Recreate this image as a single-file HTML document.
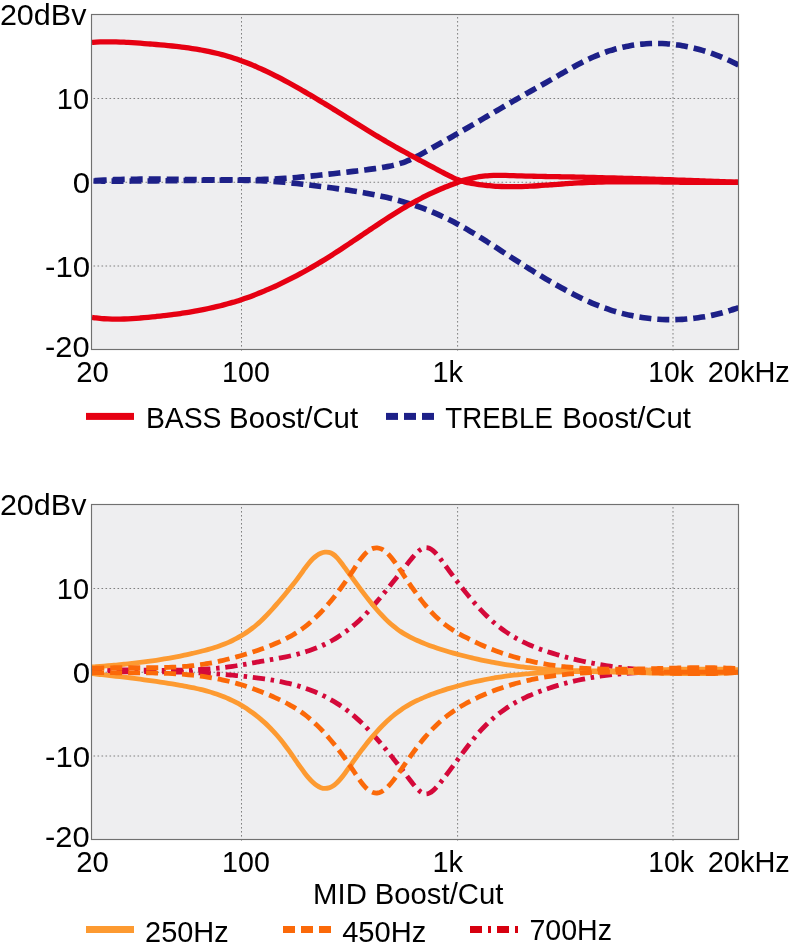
<!DOCTYPE html>
<html><head><meta charset="utf-8"><title>EQ curves</title>
<style>
html,body{margin:0;padding:0;background:#fff}
svg{display:block;font-family:"Liberation Sans",sans-serif;will-change:transform}
.g{stroke:#808080;stroke-width:1;stroke-dasharray:1.6 2.4;fill:none}
text{fill:#000}
</style></head>
<body>
<svg width="790" height="949" viewBox="0 0 790 949">
<defs><clipPath id="c1"><rect x="92.00" y="14.50" width="646.50" height="335.00"/></clipPath><clipPath id="c2"><rect x="92.00" y="504.50" width="646.50" height="335.00"/></clipPath></defs>
<rect x="91.50" y="14.50" width="647.00" height="335.00" fill="#eeeef0"/>
<line x1="241.50" y1="17.00" x2="241.50" y2="351.00" class="g"/>
<line x1="457.60" y1="17.00" x2="457.60" y2="351.00" class="g"/>
<line x1="673.00" y1="17.00" x2="673.00" y2="351.00" class="g"/>
<line x1="93.50" y1="98.50" x2="738.50" y2="98.50" class="g"/>
<line x1="93.50" y1="182.25" x2="738.50" y2="182.25" class="g"/>
<line x1="93.50" y1="266.00" x2="738.50" y2="266.00" class="g"/>
<g clip-path="url(#c1)">
<path d="M92.00,180.78 C92.67,180.73 94.68,180.60 96.02,180.52 C97.35,180.44 98.69,180.36 100.03,180.29 C101.37,180.21 102.71,180.14 104.05,180.08 C105.39,180.01 106.72,179.95 108.06,179.89 C109.40,179.84 110.74,179.78 112.08,179.73 C113.42,179.68 114.75,179.64 116.09,179.60 C117.43,179.55 118.77,179.51 120.11,179.48 C121.45,179.44 122.79,179.41 124.12,179.38 C125.46,179.35 126.80,179.32 128.14,179.30 C129.48,179.27 130.82,179.25 132.16,179.23 C133.49,179.21 134.83,179.20 136.17,179.19 C137.51,179.17 138.85,179.16 140.19,179.15 C141.52,179.14 142.86,179.14 144.20,179.13 C145.54,179.13 146.88,179.13 148.22,179.13 C149.56,179.13 150.89,179.13 152.23,179.13 C153.57,179.14 154.91,179.14 156.25,179.15 C157.59,179.15 158.93,179.16 160.26,179.17 C161.60,179.18 162.94,179.19 164.28,179.20 C165.62,179.22 166.96,179.23 168.30,179.24 C169.63,179.26 170.97,179.27 172.31,179.29 C173.65,179.31 174.99,179.32 176.33,179.34 C177.66,179.36 179.00,179.38 180.34,179.39 C181.68,179.41 183.02,179.43 184.36,179.45 C185.70,179.47 187.03,179.49 188.37,179.51 C189.71,179.53 191.05,179.55 192.39,179.57 C193.73,179.59 195.07,179.60 196.40,179.62 C197.74,179.64 199.08,179.66 200.42,179.68 C201.76,179.70 203.10,179.71 204.43,179.73 C205.77,179.75 207.11,179.76 208.45,179.78 C209.79,179.79 211.13,179.81 212.47,179.82 C213.80,179.83 215.14,179.84 216.48,179.85 C217.82,179.86 219.16,179.87 220.50,179.88 C221.84,179.89 223.17,179.90 224.51,179.90 C225.85,179.90 227.19,179.91 228.53,179.91 C229.87,179.91 231.20,179.91 232.54,179.91 C233.88,179.90 235.22,179.90 236.56,179.89 C237.90,179.88 239.24,179.88 240.57,179.86 C241.91,179.85 243.25,179.84 244.59,179.82 C245.93,179.80 247.27,179.78 248.61,179.76 C249.94,179.74 251.28,179.72 252.62,179.69 C253.96,179.66 255.30,179.63 256.64,179.59 C257.98,179.56 259.31,179.52 260.65,179.48 C261.99,179.44 263.33,179.40 264.67,179.35 C266.01,179.30 267.34,179.25 268.68,179.20 C270.02,179.14 271.36,179.08 272.70,179.02 C274.04,178.96 275.38,178.89 276.71,178.82 C278.05,178.75 279.39,178.68 280.73,178.60 C282.07,178.52 283.41,178.44 284.75,178.35 C286.08,178.26 287.42,178.17 288.76,178.07 C290.10,177.97 291.44,177.87 292.78,177.77 C294.11,177.66 295.45,177.55 296.79,177.43 C298.13,177.32 299.47,177.20 300.81,177.08 C302.15,176.96 303.48,176.83 304.82,176.70 C306.16,176.57 307.50,176.44 308.84,176.30 C310.18,176.17 311.52,176.03 312.85,175.89 C314.19,175.75 315.53,175.61 316.87,175.47 C318.21,175.32 319.55,175.18 320.89,175.03 C322.22,174.89 323.56,174.74 324.90,174.59 C326.24,174.44 327.58,174.29 328.92,174.14 C330.25,173.99 331.59,173.84 332.93,173.69 C334.27,173.54 335.61,173.39 336.95,173.24 C338.29,173.09 339.62,172.94 340.96,172.79 C342.30,172.64 343.64,172.48 344.98,172.33 C346.32,172.18 347.66,172.02 348.99,171.87 C350.33,171.71 351.67,171.55 353.01,171.40 C354.35,171.24 355.69,171.08 357.02,170.92 C358.36,170.75 359.70,170.59 361.04,170.42 C362.38,170.26 363.72,170.09 365.06,169.92 C366.39,169.75 367.73,169.58 369.07,169.40 C370.41,169.23 371.75,169.05 373.09,168.87 C374.43,168.69 375.76,168.51 377.10,168.31 C378.44,168.12 379.78,167.92 381.12,167.71 C382.46,167.49 383.80,167.27 385.13,167.03 C386.47,166.79 387.81,166.54 389.15,166.26 C390.49,165.99 391.83,165.70 393.16,165.38 C394.50,165.06 395.84,164.73 397.18,164.36 C398.52,163.99 399.86,163.60 401.20,163.18 C402.53,162.75 403.87,162.29 405.21,161.80 C406.55,161.30 407.89,160.77 409.23,160.20 C410.57,159.62 411.90,159.01 413.24,158.36 C414.58,157.71 415.92,157.02 417.26,156.31 C418.60,155.61 419.93,154.87 421.27,154.12 C422.61,153.37 423.95,152.60 425.29,151.83 C426.63,151.07 427.97,150.28 429.30,149.51 C430.64,148.75 431.98,147.98 433.32,147.22 C434.66,146.45 436.00,145.70 437.34,144.94 C438.67,144.19 440.01,143.44 441.35,142.69 C442.69,141.94 444.03,141.20 445.37,140.45 C446.70,139.70 448.04,138.95 449.38,138.19 C450.72,137.44 452.06,136.68 453.40,135.92 C454.74,135.16 456.07,134.40 457.41,133.64 C458.75,132.87 460.09,132.10 461.43,131.33 C462.77,130.56 464.11,129.79 465.44,129.01 C466.78,128.24 468.12,127.46 469.46,126.68 C470.80,125.90 472.14,125.12 473.48,124.34 C474.81,123.56 476.15,122.77 477.49,121.99 C478.83,121.21 480.17,120.42 481.51,119.63 C482.84,118.85 484.18,118.06 485.52,117.28 C486.86,116.49 488.20,115.70 489.54,114.92 C490.88,114.13 492.21,113.35 493.55,112.56 C494.89,111.78 496.23,110.99 497.57,110.21 C498.91,109.43 500.25,108.64 501.58,107.86 C502.92,107.08 504.26,106.30 505.60,105.52 C506.94,104.75 508.28,103.97 509.61,103.20 C510.95,102.42 512.29,101.65 513.63,100.88 C514.97,100.11 516.31,99.35 517.65,98.58 C518.98,97.82 520.32,97.06 521.66,96.30 C523.00,95.54 524.34,94.79 525.68,94.03 C527.02,93.27 528.35,92.52 529.69,91.77 C531.03,91.01 532.37,90.26 533.71,89.51 C535.05,88.76 536.39,88.01 537.72,87.25 C539.06,86.50 540.40,85.75 541.74,84.99 C543.08,84.23 544.42,83.48 545.75,82.72 C547.09,81.96 548.43,81.20 549.77,80.43 C551.11,79.67 552.45,78.90 553.79,78.13 C555.12,77.36 556.46,76.59 557.80,75.82 C559.14,75.05 560.48,74.27 561.82,73.50 C563.16,72.74 564.49,71.97 565.83,71.21 C567.17,70.44 568.51,69.69 569.85,68.94 C571.19,68.19 572.52,67.44 573.86,66.71 C575.20,65.98 576.54,65.25 577.88,64.54 C579.22,63.83 580.56,63.13 581.89,62.44 C583.23,61.76 584.57,61.08 585.91,60.43 C587.25,59.77 588.59,59.13 589.93,58.52 C591.26,57.90 592.60,57.29 593.94,56.71 C595.28,56.13 596.62,55.57 597.96,55.03 C599.30,54.49 600.63,53.97 601.97,53.46 C603.31,52.96 604.65,52.48 605.99,52.01 C607.33,51.55 608.66,51.10 610.00,50.68 C611.34,50.25 612.68,49.85 614.02,49.46 C615.36,49.07 616.70,48.71 618.03,48.36 C619.37,48.01 620.71,47.68 622.05,47.37 C623.39,47.05 624.73,46.76 626.07,46.49 C627.40,46.21 628.74,45.96 630.08,45.72 C631.42,45.49 632.76,45.27 634.10,45.07 C635.43,44.87 636.77,44.69 638.11,44.53 C639.45,44.36 640.79,44.22 642.13,44.09 C643.47,43.97 644.80,43.86 646.14,43.77 C647.48,43.68 648.82,43.61 650.16,43.56 C651.50,43.50 652.84,43.47 654.17,43.45 C655.51,43.43 656.85,43.44 658.19,43.45 C659.53,43.47 660.87,43.51 662.20,43.56 C663.54,43.62 664.88,43.69 666.22,43.78 C667.56,43.86 668.90,43.97 670.24,44.10 C671.57,44.22 672.91,44.36 674.25,44.52 C675.59,44.68 676.93,44.85 678.27,45.05 C679.61,45.24 680.94,45.45 682.28,45.68 C683.62,45.90 684.96,46.15 686.30,46.41 C687.64,46.67 688.98,46.95 690.31,47.25 C691.65,47.54 692.99,47.85 694.33,48.18 C695.67,48.51 697.01,48.86 698.34,49.22 C699.68,49.58 701.02,49.96 702.36,50.35 C703.70,50.75 705.04,51.16 706.38,51.59 C707.71,52.02 709.05,52.46 710.39,52.92 C711.73,53.38 713.07,53.86 714.41,54.35 C715.75,54.84 717.08,55.35 718.42,55.88 C719.76,56.40 721.10,56.94 722.44,57.50 C723.78,58.06 725.11,58.63 726.45,59.22 C727.79,59.81 729.13,60.41 730.47,61.03 C731.81,61.65 733.15,62.29 734.48,62.94 C735.82,63.59 737.83,64.61 738.50,64.94" fill="none" stroke="#1d2088" stroke-width="5.6" stroke-dasharray="12 6" stroke-dashoffset="15.27"/>
<path d="M92.00,180.98 C92.67,180.99 94.68,181.01 96.02,181.03 C97.35,181.04 98.69,181.05 100.03,181.06 C101.37,181.07 102.71,181.08 104.05,181.09 C105.39,181.10 106.72,181.11 108.06,181.11 C109.40,181.12 110.74,181.12 112.08,181.12 C113.42,181.13 114.75,181.13 116.09,181.13 C117.43,181.13 118.77,181.12 120.11,181.12 C121.45,181.12 122.79,181.12 124.12,181.11 C125.46,181.11 126.80,181.10 128.14,181.09 C129.48,181.09 130.82,181.08 132.16,181.07 C133.49,181.06 134.83,181.05 136.17,181.04 C137.51,181.03 138.85,181.02 140.19,181.01 C141.52,181.00 142.86,180.99 144.20,180.98 C145.54,180.96 146.88,180.95 148.22,180.94 C149.56,180.92 150.89,180.91 152.23,180.89 C153.57,180.88 154.91,180.86 156.25,180.85 C157.59,180.83 158.93,180.82 160.26,180.80 C161.60,180.78 162.94,180.77 164.28,180.75 C165.62,180.73 166.96,180.72 168.30,180.70 C169.63,180.68 170.97,180.67 172.31,180.65 C173.65,180.63 174.99,180.62 176.33,180.60 C177.66,180.58 179.00,180.57 180.34,180.55 C181.68,180.54 183.02,180.52 184.36,180.50 C185.70,180.49 187.03,180.47 188.37,180.46 C189.71,180.44 191.05,180.43 192.39,180.41 C193.73,180.40 195.07,180.39 196.40,180.37 C197.74,180.36 199.08,180.35 200.42,180.33 C201.76,180.32 203.10,180.31 204.43,180.30 C205.77,180.29 207.11,180.28 208.45,180.27 C209.79,180.26 211.13,180.25 212.47,180.25 C213.80,180.24 215.14,180.23 216.48,180.23 C217.82,180.22 219.16,180.22 220.50,180.21 C221.84,180.21 223.17,180.21 224.51,180.21 C225.85,180.21 227.19,180.20 228.53,180.21 C229.87,180.21 231.20,180.21 232.54,180.22 C233.88,180.22 235.22,180.23 236.56,180.24 C237.90,180.25 239.24,180.26 240.57,180.27 C241.91,180.29 243.25,180.30 244.59,180.33 C245.93,180.35 247.27,180.37 248.61,180.40 C249.94,180.42 251.28,180.45 252.62,180.49 C253.96,180.52 255.30,180.56 256.64,180.61 C257.98,180.65 259.31,180.70 260.65,180.75 C261.99,180.80 263.33,180.86 264.67,180.92 C266.01,180.98 267.34,181.05 268.68,181.13 C270.02,181.20 271.36,181.28 272.70,181.36 C274.04,181.45 275.38,181.54 276.71,181.64 C278.05,181.73 279.39,181.84 280.73,181.95 C282.07,182.06 283.41,182.18 284.75,182.30 C286.08,182.42 287.42,182.55 288.76,182.69 C290.10,182.82 291.44,182.96 292.78,183.10 C294.11,183.25 295.45,183.40 296.79,183.55 C298.13,183.70 299.47,183.86 300.81,184.01 C302.15,184.17 303.48,184.33 304.82,184.50 C306.16,184.66 307.50,184.83 308.84,184.99 C310.18,185.16 311.52,185.33 312.85,185.50 C314.19,185.67 315.53,185.84 316.87,186.01 C318.21,186.18 319.55,186.35 320.89,186.52 C322.22,186.69 323.56,186.86 324.90,187.04 C326.24,187.21 327.58,187.38 328.92,187.56 C330.25,187.73 331.59,187.91 332.93,188.09 C334.27,188.26 335.61,188.44 336.95,188.63 C338.29,188.81 339.62,188.99 340.96,189.18 C342.30,189.37 343.64,189.56 344.98,189.75 C346.32,189.95 347.66,190.15 348.99,190.35 C350.33,190.55 351.67,190.75 353.01,190.96 C354.35,191.17 355.69,191.39 357.02,191.60 C358.36,191.82 359.70,192.05 361.04,192.27 C362.38,192.50 363.72,192.74 365.06,192.98 C366.39,193.22 367.73,193.46 369.07,193.71 C370.41,193.96 371.75,194.22 373.09,194.49 C374.43,194.75 375.76,195.02 377.10,195.30 C378.44,195.58 379.78,195.86 381.12,196.15 C382.46,196.45 383.80,196.75 385.13,197.06 C386.47,197.37 387.81,197.68 389.15,198.01 C390.49,198.33 391.83,198.67 393.16,199.01 C394.50,199.35 395.84,199.70 397.18,200.06 C398.52,200.43 399.86,200.80 401.20,201.18 C402.53,201.56 403.87,201.95 405.21,202.35 C406.55,202.75 407.89,203.16 409.23,203.58 C410.57,204.01 411.90,204.44 413.24,204.89 C414.58,205.33 415.92,205.79 417.26,206.25 C418.60,206.72 419.93,207.20 421.27,207.69 C422.61,208.18 423.95,208.68 425.29,209.20 C426.63,209.71 427.97,210.24 429.30,210.78 C430.64,211.31 431.98,211.86 433.32,212.43 C434.66,212.99 436.00,213.57 437.34,214.15 C438.67,214.74 440.01,215.34 441.35,215.96 C442.69,216.57 444.03,217.20 445.37,217.84 C446.70,218.48 448.04,219.13 449.38,219.80 C450.72,220.46 452.06,221.14 453.40,221.84 C454.74,222.53 456.07,223.24 457.41,223.96 C458.75,224.68 460.09,225.42 461.43,226.16 C462.77,226.91 464.11,227.67 465.44,228.45 C466.78,229.22 468.12,230.00 469.46,230.80 C470.80,231.59 472.14,232.39 473.48,233.21 C474.81,234.02 476.15,234.84 477.49,235.67 C478.83,236.49 480.17,237.33 481.51,238.17 C482.84,239.01 484.18,239.86 485.52,240.71 C486.86,241.57 488.20,242.42 489.54,243.28 C490.88,244.14 492.21,245.01 493.55,245.87 C494.89,246.74 496.23,247.61 497.57,248.47 C498.91,249.34 500.25,250.21 501.58,251.08 C502.92,251.94 504.26,252.81 505.60,253.68 C506.94,254.54 508.28,255.41 509.61,256.27 C510.95,257.14 512.29,258.00 513.63,258.86 C514.97,259.72 516.31,260.58 517.65,261.43 C518.98,262.29 520.32,263.14 521.66,263.99 C523.00,264.84 524.34,265.68 525.68,266.52 C527.02,267.36 528.35,268.20 529.69,269.03 C531.03,269.87 532.37,270.69 533.71,271.52 C535.05,272.34 536.39,273.16 537.72,273.97 C539.06,274.79 540.40,275.60 541.74,276.40 C543.08,277.20 544.42,278.00 545.75,278.79 C547.09,279.58 548.43,280.37 549.77,281.15 C551.11,281.93 552.45,282.70 553.79,283.47 C555.12,284.23 556.46,284.99 557.80,285.75 C559.14,286.50 560.48,287.25 561.82,287.98 C563.16,288.72 564.49,289.45 565.83,290.18 C567.17,290.90 568.51,291.62 569.85,292.32 C571.19,293.03 572.52,293.73 573.86,294.42 C575.20,295.10 576.54,295.78 577.88,296.45 C579.22,297.11 580.56,297.77 581.89,298.41 C583.23,299.05 584.57,299.68 585.91,300.30 C587.25,300.92 588.59,301.52 589.93,302.11 C591.26,302.70 592.60,303.28 593.94,303.84 C595.28,304.40 596.62,304.94 597.96,305.47 C599.30,306.00 600.63,306.51 601.97,307.01 C603.31,307.51 604.65,307.99 605.99,308.46 C607.33,308.93 608.66,309.39 610.00,309.82 C611.34,310.26 612.68,310.69 614.02,311.10 C615.36,311.50 616.70,311.90 618.03,312.28 C619.37,312.65 620.71,313.02 622.05,313.37 C623.39,313.72 624.73,314.05 626.07,314.37 C627.40,314.69 628.74,315.00 630.08,315.29 C631.42,315.58 632.76,315.85 634.10,316.11 C635.43,316.37 636.77,316.62 638.11,316.85 C639.45,317.08 640.79,317.30 642.13,317.50 C643.47,317.71 644.80,317.89 646.14,318.07 C647.48,318.24 648.82,318.40 650.16,318.55 C651.50,318.69 652.84,318.82 654.17,318.94 C655.51,319.06 656.85,319.16 658.19,319.25 C659.53,319.34 660.87,319.41 662.20,319.47 C663.54,319.53 664.88,319.58 666.22,319.61 C667.56,319.65 668.90,319.66 670.24,319.67 C671.57,319.67 672.91,319.66 674.25,319.64 C675.59,319.62 676.93,319.58 678.27,319.53 C679.61,319.48 680.94,319.41 682.28,319.33 C683.62,319.26 684.96,319.16 686.30,319.06 C687.64,318.95 688.98,318.83 690.31,318.70 C691.65,318.56 692.99,318.42 694.33,318.25 C695.67,318.09 697.01,317.91 698.34,317.72 C699.68,317.53 701.02,317.33 702.36,317.11 C703.70,316.89 705.04,316.65 706.38,316.41 C707.71,316.16 709.05,315.89 710.39,315.62 C711.73,315.34 713.07,315.05 714.41,314.74 C715.75,314.43 717.08,314.11 718.42,313.77 C719.76,313.43 721.10,313.08 722.44,312.71 C723.78,312.35 725.11,311.96 726.45,311.57 C727.79,311.17 729.13,310.76 730.47,310.33 C731.81,309.90 733.15,309.46 734.48,309.00 C735.82,308.54 737.83,307.81 738.50,307.57" fill="none" stroke="#1d2088" stroke-width="5.6" stroke-dasharray="12 6" stroke-dashoffset="16.48"/>
<path d="M92.00,42.35 C92.67,42.31 94.68,42.17 96.02,42.10 C97.35,42.03 98.69,41.98 100.03,41.93 C101.37,41.89 102.71,41.86 104.05,41.83 C105.39,41.81 106.72,41.80 108.06,41.80 C109.40,41.80 110.74,41.81 112.08,41.83 C113.42,41.84 114.75,41.87 116.09,41.91 C117.43,41.94 118.77,41.99 120.11,42.04 C121.45,42.09 122.79,42.15 124.12,42.21 C125.46,42.28 126.80,42.35 128.14,42.42 C129.48,42.50 130.82,42.58 132.16,42.67 C133.49,42.75 134.83,42.84 136.17,42.94 C137.51,43.03 138.85,43.13 140.19,43.23 C141.52,43.33 142.86,43.43 144.20,43.54 C145.54,43.64 146.88,43.75 148.22,43.86 C149.56,43.96 150.89,44.07 152.23,44.18 C153.57,44.29 154.91,44.40 156.25,44.51 C157.59,44.63 158.93,44.74 160.26,44.86 C161.60,44.98 162.94,45.10 164.28,45.22 C165.62,45.34 166.96,45.47 168.30,45.60 C169.63,45.74 170.97,45.87 172.31,46.01 C173.65,46.15 174.99,46.30 176.33,46.45 C177.66,46.60 179.00,46.75 180.34,46.91 C181.68,47.08 183.02,47.24 184.36,47.42 C185.70,47.59 187.03,47.77 188.37,47.96 C189.71,48.15 191.05,48.35 192.39,48.55 C193.73,48.75 195.07,48.97 196.40,49.19 C197.74,49.41 199.08,49.64 200.42,49.87 C201.76,50.11 203.10,50.36 204.43,50.62 C205.77,50.88 207.11,51.14 208.45,51.42 C209.79,51.70 211.13,51.99 212.47,52.29 C213.80,52.59 215.14,52.90 216.48,53.22 C217.82,53.55 219.16,53.88 220.50,54.23 C221.84,54.58 223.17,54.94 224.51,55.31 C225.85,55.69 227.19,56.07 228.53,56.47 C229.87,56.87 231.20,57.29 232.54,57.72 C233.88,58.15 235.22,58.59 236.56,59.05 C237.90,59.50 239.24,59.97 240.57,60.46 C241.91,60.94 243.25,61.44 244.59,61.95 C245.93,62.46 247.27,62.98 248.61,63.52 C249.94,64.05 251.28,64.60 252.62,65.16 C253.96,65.72 255.30,66.29 256.64,66.88 C257.98,67.46 259.31,68.05 260.65,68.66 C261.99,69.26 263.33,69.88 264.67,70.50 C266.01,71.13 267.34,71.76 268.68,72.41 C270.02,73.05 271.36,73.71 272.70,74.37 C274.04,75.04 275.38,75.71 276.71,76.40 C278.05,77.08 279.39,77.77 280.73,78.47 C282.07,79.17 283.41,79.88 284.75,80.59 C286.08,81.31 287.42,82.03 288.76,82.76 C290.10,83.49 291.44,84.23 292.78,84.98 C294.11,85.72 295.45,86.47 296.79,87.23 C298.13,87.99 299.47,88.75 300.81,89.52 C302.15,90.29 303.48,91.07 304.82,91.85 C306.16,92.63 307.50,93.41 308.84,94.20 C310.18,94.99 311.52,95.79 312.85,96.59 C314.19,97.39 315.53,98.19 316.87,99.00 C318.21,99.80 319.55,100.62 320.89,101.43 C322.22,102.24 323.56,103.06 324.90,103.88 C326.24,104.70 327.58,105.52 328.92,106.35 C330.25,107.17 331.59,108.00 332.93,108.83 C334.27,109.66 335.61,110.49 336.95,111.32 C338.29,112.15 339.62,112.98 340.96,113.82 C342.30,114.65 343.64,115.48 344.98,116.32 C346.32,117.15 347.66,117.99 348.99,118.82 C350.33,119.65 351.67,120.49 353.01,121.32 C354.35,122.15 355.69,122.99 357.02,123.82 C358.36,124.65 359.70,125.48 361.04,126.30 C362.38,127.13 363.72,127.96 365.06,128.78 C366.39,129.60 367.73,130.42 369.07,131.24 C370.41,132.06 371.75,132.88 373.09,133.69 C374.43,134.50 375.76,135.31 377.10,136.11 C378.44,136.92 379.78,137.72 381.12,138.51 C382.46,139.31 383.80,140.10 385.13,140.89 C386.47,141.67 387.81,142.46 389.15,143.23 C390.49,144.01 391.83,144.78 393.16,145.55 C394.50,146.31 395.84,147.07 397.18,147.83 C398.52,148.58 399.86,149.33 401.20,150.08 C402.53,150.82 403.87,151.56 405.21,152.30 C406.55,153.04 407.89,153.77 409.23,154.51 C410.57,155.24 411.90,155.96 413.24,156.69 C414.58,157.41 415.92,158.14 417.26,158.86 C418.60,159.58 419.93,160.30 421.27,161.01 C422.61,161.73 423.95,162.45 425.29,163.16 C426.63,163.88 427.97,164.59 429.30,165.31 C430.64,166.02 431.98,166.73 433.32,167.45 C434.66,168.16 436.00,168.88 437.34,169.59 C438.67,170.31 440.01,171.03 441.35,171.75 C442.69,172.46 444.03,173.18 445.37,173.88 C446.70,174.58 448.04,175.27 449.38,175.93 C450.72,176.59 452.06,177.24 453.40,177.84 C454.74,178.44 456.07,179.01 457.41,179.53 C458.75,180.04 460.09,180.51 461.43,180.94 C462.77,181.36 464.11,181.73 465.44,182.07 C466.78,182.41 468.12,182.71 469.46,182.98 C470.80,183.25 472.14,183.49 473.48,183.71 C474.81,183.94 476.15,184.13 477.49,184.32 C478.83,184.52 480.17,184.69 481.51,184.86 C482.84,185.02 484.18,185.18 485.52,185.32 C486.86,185.47 488.20,185.60 489.54,185.72 C490.88,185.85 492.21,185.96 493.55,186.06 C494.89,186.16 496.23,186.25 497.57,186.32 C498.91,186.40 500.25,186.47 501.58,186.52 C502.92,186.57 504.26,186.62 505.60,186.65 C506.94,186.68 508.28,186.70 509.61,186.71 C510.95,186.72 512.29,186.72 513.63,186.71 C514.97,186.70 516.31,186.68 517.65,186.66 C518.98,186.63 520.32,186.59 521.66,186.55 C523.00,186.51 524.34,186.46 525.68,186.40 C527.02,186.35 528.35,186.28 529.69,186.22 C531.03,186.15 532.37,186.07 533.71,186.00 C535.05,185.92 536.39,185.83 537.72,185.75 C539.06,185.66 540.40,185.57 541.74,185.48 C543.08,185.38 544.42,185.29 545.75,185.19 C547.09,185.09 548.43,184.99 549.77,184.89 C551.11,184.79 552.45,184.69 553.79,184.59 C555.12,184.49 556.46,184.39 557.80,184.29 C559.14,184.18 560.48,184.08 561.82,183.99 C563.16,183.89 564.49,183.79 565.83,183.70 C567.17,183.61 568.51,183.51 569.85,183.43 C571.19,183.34 572.52,183.26 573.86,183.18 C575.20,183.10 576.54,183.02 577.88,182.95 C579.22,182.88 580.56,182.81 581.89,182.75 C583.23,182.68 584.57,182.62 585.91,182.57 C587.25,182.51 588.59,182.46 589.93,182.41 C591.26,182.36 592.60,182.31 593.94,182.27 C595.28,182.22 596.62,182.18 597.96,182.15 C599.30,182.11 600.63,182.08 601.97,182.04 C603.31,182.01 604.65,181.98 605.99,181.96 C607.33,181.93 608.66,181.91 610.00,181.89 C611.34,181.87 612.68,181.85 614.02,181.83 C615.36,181.82 616.70,181.80 618.03,181.79 C619.37,181.78 620.71,181.77 622.05,181.77 C623.39,181.76 624.73,181.75 626.07,181.75 C627.40,181.75 628.74,181.75 630.08,181.75 C631.42,181.75 632.76,181.75 634.10,181.75 C635.43,181.76 636.77,181.76 638.11,181.77 C639.45,181.77 640.79,181.78 642.13,181.79 C643.47,181.80 644.80,181.81 646.14,181.82 C647.48,181.83 648.82,181.84 650.16,181.86 C651.50,181.87 652.84,181.88 654.17,181.90 C655.51,181.91 656.85,181.93 658.19,181.94 C659.53,181.96 660.87,181.98 662.20,181.99 C663.54,182.01 664.88,182.03 666.22,182.05 C667.56,182.06 668.90,182.08 670.24,182.10 C671.57,182.12 672.91,182.13 674.25,182.15 C675.59,182.17 676.93,182.19 678.27,182.20 C679.61,182.22 680.94,182.24 682.28,182.25 C683.62,182.27 684.96,182.28 686.30,182.30 C687.64,182.32 688.98,182.33 690.31,182.34 C691.65,182.36 692.99,182.37 694.33,182.38 C695.67,182.39 697.01,182.41 698.34,182.42 C699.68,182.43 701.02,182.44 702.36,182.44 C703.70,182.45 705.04,182.46 706.38,182.46 C707.71,182.47 709.05,182.47 710.39,182.47 C711.73,182.47 713.07,182.47 714.41,182.47 C715.75,182.47 717.08,182.47 718.42,182.46 C719.76,182.46 721.10,182.45 722.44,182.44 C723.78,182.43 725.11,182.42 726.45,182.41 C727.79,182.39 729.13,182.38 730.47,182.36 C731.81,182.34 733.15,182.32 734.48,182.30 C735.82,182.27 737.83,182.23 738.50,182.22" fill="none" stroke="#e60012" stroke-width="5.3"/>
<path d="M92.00,317.42 C92.67,317.51 94.68,317.81 96.02,317.98 C97.35,318.14 98.69,318.29 100.03,318.42 C101.37,318.55 102.71,318.65 104.05,318.75 C105.39,318.84 106.72,318.91 108.06,318.97 C109.40,319.03 110.74,319.07 112.08,319.10 C113.42,319.13 114.75,319.15 116.09,319.15 C117.43,319.15 118.77,319.13 120.11,319.11 C121.45,319.09 122.79,319.05 124.12,319.00 C125.46,318.95 126.80,318.90 128.14,318.83 C129.48,318.76 130.82,318.69 132.16,318.60 C133.49,318.52 134.83,318.42 136.17,318.33 C137.51,318.23 138.85,318.12 140.19,318.01 C141.52,317.90 142.86,317.78 144.20,317.66 C145.54,317.54 146.88,317.42 148.22,317.29 C149.56,317.16 150.89,317.03 152.23,316.90 C153.57,316.77 154.91,316.63 156.25,316.49 C157.59,316.35 158.93,316.21 160.26,316.06 C161.60,315.91 162.94,315.76 164.28,315.61 C165.62,315.45 166.96,315.29 168.30,315.13 C169.63,314.97 170.97,314.80 172.31,314.63 C173.65,314.45 174.99,314.28 176.33,314.09 C177.66,313.91 179.00,313.72 180.34,313.53 C181.68,313.33 183.02,313.13 184.36,312.93 C185.70,312.72 187.03,312.51 188.37,312.30 C189.71,312.08 191.05,311.85 192.39,311.62 C193.73,311.39 195.07,311.16 196.40,310.91 C197.74,310.67 199.08,310.42 200.42,310.16 C201.76,309.90 203.10,309.64 204.43,309.37 C205.77,309.09 207.11,308.81 208.45,308.53 C209.79,308.24 211.13,307.94 212.47,307.64 C213.80,307.33 215.14,307.02 216.48,306.70 C217.82,306.38 219.16,306.05 220.50,305.71 C221.84,305.37 223.17,305.02 224.51,304.66 C225.85,304.30 227.19,303.94 228.53,303.56 C229.87,303.18 231.20,302.80 232.54,302.40 C233.88,302.01 235.22,301.60 236.56,301.18 C237.90,300.77 239.24,300.34 240.57,299.90 C241.91,299.46 243.25,299.02 244.59,298.56 C245.93,298.10 247.27,297.63 248.61,297.15 C249.94,296.67 251.28,296.18 252.62,295.67 C253.96,295.17 255.30,294.66 256.64,294.14 C257.98,293.62 259.31,293.09 260.65,292.54 C261.99,292.00 263.33,291.45 264.67,290.89 C266.01,290.33 267.34,289.75 268.68,289.17 C270.02,288.59 271.36,288.00 272.70,287.40 C274.04,286.80 275.38,286.19 276.71,285.56 C278.05,284.94 279.39,284.32 280.73,283.68 C282.07,283.04 283.41,282.39 284.75,281.73 C286.08,281.07 287.42,280.41 288.76,279.73 C290.10,279.06 291.44,278.37 292.78,277.68 C294.11,276.98 295.45,276.28 296.79,275.57 C298.13,274.86 299.47,274.14 300.81,273.41 C302.15,272.68 303.48,271.95 304.82,271.20 C306.16,270.46 307.50,269.70 308.84,268.94 C310.18,268.18 311.52,267.41 312.85,266.63 C314.19,265.85 315.53,265.07 316.87,264.27 C318.21,263.48 319.55,262.68 320.89,261.87 C322.22,261.06 323.56,260.24 324.90,259.41 C326.24,258.59 327.58,257.75 328.92,256.91 C330.25,256.07 331.59,255.22 332.93,254.37 C334.27,253.51 335.61,252.65 336.95,251.78 C338.29,250.92 339.62,250.04 340.96,249.16 C342.30,248.28 343.64,247.40 344.98,246.51 C346.32,245.62 347.66,244.73 348.99,243.84 C350.33,242.94 351.67,242.04 353.01,241.14 C354.35,240.24 355.69,239.34 357.02,238.44 C358.36,237.53 359.70,236.63 361.04,235.73 C362.38,234.82 363.72,233.92 365.06,233.01 C366.39,232.11 367.73,231.21 369.07,230.31 C370.41,229.41 371.75,228.51 373.09,227.61 C374.43,226.71 375.76,225.82 377.10,224.93 C378.44,224.04 379.78,223.16 381.12,222.28 C382.46,221.40 383.80,220.52 385.13,219.65 C386.47,218.78 387.81,217.91 389.15,217.06 C390.49,216.20 391.83,215.35 393.16,214.51 C394.50,213.66 395.84,212.83 397.18,212.00 C398.52,211.17 399.86,210.36 401.20,209.55 C402.53,208.74 403.87,207.94 405.21,207.15 C406.55,206.37 407.89,205.59 409.23,204.82 C410.57,204.06 411.90,203.30 413.24,202.56 C414.58,201.82 415.92,201.09 417.26,200.37 C418.60,199.66 419.93,198.95 421.27,198.26 C422.61,197.56 423.95,196.88 425.29,196.21 C426.63,195.54 427.97,194.88 429.30,194.23 C430.64,193.59 431.98,192.95 433.32,192.33 C434.66,191.71 436.00,191.10 437.34,190.50 C438.67,189.91 440.01,189.32 441.35,188.75 C442.69,188.17 444.03,187.61 445.37,187.06 C446.70,186.51 448.04,185.98 449.38,185.45 C450.72,184.93 452.06,184.41 453.40,183.91 C454.74,183.41 456.07,182.92 457.41,182.45 C458.75,181.98 460.09,181.53 461.43,181.09 C462.77,180.66 464.11,180.25 465.44,179.86 C466.78,179.47 468.12,179.10 469.46,178.76 C470.80,178.42 472.14,178.10 473.48,177.81 C474.81,177.51 476.15,177.25 477.49,177.01 C478.83,176.77 480.17,176.57 481.51,176.38 C482.84,176.20 484.18,176.05 485.52,175.91 C486.86,175.78 488.20,175.68 489.54,175.59 C490.88,175.51 492.21,175.45 493.55,175.40 C494.89,175.36 496.23,175.34 497.57,175.32 C498.91,175.31 500.25,175.32 501.58,175.34 C502.92,175.35 504.26,175.38 505.60,175.41 C506.94,175.45 508.28,175.49 509.61,175.53 C510.95,175.58 512.29,175.63 513.63,175.68 C514.97,175.72 516.31,175.77 517.65,175.82 C518.98,175.86 520.32,175.90 521.66,175.94 C523.00,175.98 524.34,176.02 525.68,176.06 C527.02,176.09 528.35,176.13 529.69,176.16 C531.03,176.19 532.37,176.22 533.71,176.25 C535.05,176.28 536.39,176.31 537.72,176.34 C539.06,176.37 540.40,176.39 541.74,176.42 C543.08,176.45 544.42,176.47 545.75,176.49 C547.09,176.52 548.43,176.54 549.77,176.57 C551.11,176.59 552.45,176.61 553.79,176.64 C555.12,176.66 556.46,176.68 557.80,176.71 C559.14,176.73 560.48,176.76 561.82,176.78 C563.16,176.81 564.49,176.83 565.83,176.86 C567.17,176.88 568.51,176.91 569.85,176.94 C571.19,176.96 572.52,176.99 573.86,177.02 C575.20,177.05 576.54,177.08 577.88,177.11 C579.22,177.13 580.56,177.16 581.89,177.19 C583.23,177.22 584.57,177.25 585.91,177.28 C587.25,177.32 588.59,177.35 589.93,177.38 C591.26,177.41 592.60,177.44 593.94,177.47 C595.28,177.51 596.62,177.54 597.96,177.57 C599.30,177.61 600.63,177.64 601.97,177.68 C603.31,177.71 604.65,177.74 605.99,177.78 C607.33,177.81 608.66,177.85 610.00,177.89 C611.34,177.92 612.68,177.96 614.02,178.00 C615.36,178.03 616.70,178.07 618.03,178.11 C619.37,178.14 620.71,178.18 622.05,178.22 C623.39,178.26 624.73,178.30 626.07,178.34 C627.40,178.38 628.74,178.41 630.08,178.45 C631.42,178.49 632.76,178.53 634.10,178.57 C635.43,178.62 636.77,178.66 638.11,178.70 C639.45,178.74 640.79,178.78 642.13,178.82 C643.47,178.86 644.80,178.91 646.14,178.95 C647.48,178.99 648.82,179.03 650.16,179.08 C651.50,179.12 652.84,179.16 654.17,179.21 C655.51,179.25 656.85,179.30 658.19,179.34 C659.53,179.38 660.87,179.43 662.20,179.47 C663.54,179.52 664.88,179.56 666.22,179.61 C667.56,179.65 668.90,179.70 670.24,179.75 C671.57,179.79 672.91,179.84 674.25,179.89 C675.59,179.93 676.93,179.98 678.27,180.03 C679.61,180.07 680.94,180.12 682.28,180.17 C683.62,180.22 684.96,180.26 686.30,180.31 C687.64,180.36 688.98,180.41 690.31,180.46 C691.65,180.51 692.99,180.56 694.33,180.60 C695.67,180.65 697.01,180.70 698.34,180.75 C699.68,180.80 701.02,180.85 702.36,180.90 C703.70,180.95 705.04,181.00 706.38,181.05 C707.71,181.10 709.05,181.15 710.39,181.20 C711.73,181.25 713.07,181.30 714.41,181.36 C715.75,181.41 717.08,181.46 718.42,181.51 C719.76,181.56 721.10,181.61 722.44,181.66 C723.78,181.72 725.11,181.77 726.45,181.82 C727.79,181.87 729.13,181.92 730.47,181.98 C731.81,182.03 733.15,182.08 734.48,182.13 C735.82,182.19 737.83,182.27 738.50,182.29" fill="none" stroke="#e60012" stroke-width="5.3"/>
</g>
<rect x="91.50" y="14.50" width="647.00" height="335.00" fill="none" stroke="#707070" stroke-width="1.15"/>
<rect x="91.50" y="504.50" width="647.00" height="335.00" fill="#eeeef0"/>
<line x1="241.50" y1="507.00" x2="241.50" y2="841.00" class="g"/>
<line x1="457.60" y1="507.00" x2="457.60" y2="841.00" class="g"/>
<line x1="673.00" y1="507.00" x2="673.00" y2="841.00" class="g"/>
<line x1="93.50" y1="588.50" x2="738.50" y2="588.50" class="g"/>
<line x1="93.50" y1="672.25" x2="738.50" y2="672.25" class="g"/>
<line x1="93.50" y1="756.00" x2="738.50" y2="756.00" class="g"/>
<g clip-path="url(#c2)">
<path d="M92.00,670.30 C92.67,670.28 94.68,670.21 96.02,670.18 C97.35,670.14 98.69,670.11 100.03,670.08 C101.37,670.05 102.71,670.03 104.05,670.01 C105.39,669.99 106.72,669.98 108.06,669.97 C109.40,669.95 110.74,669.95 112.08,669.94 C113.42,669.93 114.75,669.93 116.09,669.93 C117.43,669.93 118.77,669.93 120.11,669.94 C121.45,669.94 122.79,669.95 124.12,669.96 C125.46,669.97 126.80,669.98 128.14,669.99 C129.48,670.00 130.82,670.01 132.16,670.02 C133.49,670.04 134.83,670.05 136.17,670.07 C137.51,670.08 138.85,670.10 140.19,670.11 C141.52,670.13 142.86,670.14 144.20,670.16 C145.54,670.18 146.88,670.19 148.22,670.20 C149.56,670.22 150.89,670.23 152.23,670.24 C153.57,670.26 154.91,670.27 156.25,670.28 C157.59,670.29 158.93,670.30 160.26,670.30 C161.60,670.31 162.94,670.31 164.28,670.31 C165.62,670.32 166.96,670.32 168.30,670.31 C169.63,670.31 170.97,670.30 172.31,670.29 C173.65,670.29 174.99,670.27 176.33,670.26 C177.66,670.24 179.00,670.22 180.34,670.20 C181.68,670.18 183.02,670.15 184.36,670.12 C185.70,670.08 187.03,670.05 188.37,670.01 C189.71,669.97 191.05,669.92 192.39,669.87 C193.73,669.82 195.07,669.76 196.40,669.70 C197.74,669.64 199.08,669.57 200.42,669.50 C201.76,669.42 203.10,669.34 204.43,669.26 C205.77,669.17 207.11,669.08 208.45,668.98 C209.79,668.88 211.13,668.78 212.47,668.66 C213.80,668.55 215.14,668.43 216.48,668.30 C217.82,668.17 219.16,668.04 220.50,667.89 C221.84,667.75 223.17,667.60 224.51,667.44 C225.85,667.28 227.19,667.11 228.53,666.93 C229.87,666.75 231.20,666.57 232.54,666.37 C233.88,666.17 235.22,665.97 236.56,665.75 C237.90,665.54 239.24,665.32 240.57,665.09 C241.91,664.87 243.25,664.63 244.59,664.39 C245.93,664.16 247.27,663.92 248.61,663.67 C249.94,663.43 251.28,663.18 252.62,662.94 C253.96,662.69 255.30,662.45 256.64,662.20 C257.98,661.96 259.31,661.72 260.65,661.48 C261.99,661.24 263.33,661.01 264.67,660.77 C266.01,660.54 267.34,660.30 268.68,660.07 C270.02,659.83 271.36,659.60 272.70,659.36 C274.04,659.12 275.38,658.88 276.71,658.63 C278.05,658.38 279.39,658.13 280.73,657.88 C282.07,657.62 283.41,657.35 284.75,657.08 C286.08,656.80 287.42,656.52 288.76,656.23 C290.10,655.93 291.44,655.63 292.78,655.31 C294.11,654.99 295.45,654.66 296.79,654.32 C298.13,653.97 299.47,653.61 300.81,653.24 C302.15,652.86 303.48,652.47 304.82,652.06 C306.16,651.65 307.50,651.22 308.84,650.77 C310.18,650.32 311.52,649.85 312.85,649.35 C314.19,648.86 315.53,648.34 316.87,647.80 C318.21,647.26 319.55,646.70 320.89,646.10 C322.22,645.51 323.56,644.90 324.90,644.25 C326.24,643.60 327.58,642.93 328.92,642.22 C330.25,641.52 331.59,640.79 332.93,640.02 C334.27,639.25 335.61,638.45 336.95,637.62 C338.29,636.78 339.62,635.92 340.96,635.01 C342.30,634.11 343.64,633.17 344.98,632.20 C346.32,631.23 347.66,630.22 348.99,629.17 C350.33,628.13 351.67,627.05 353.01,625.92 C354.35,624.80 355.69,623.64 357.02,622.44 C358.36,621.23 359.70,619.98 361.04,618.69 C362.38,617.40 363.72,616.07 365.06,614.69 C366.39,613.32 367.73,611.91 369.07,610.46 C370.41,609.02 371.75,607.54 373.09,606.03 C374.43,604.52 375.76,602.98 377.10,601.42 C378.44,599.86 379.78,598.27 381.12,596.66 C382.46,595.05 383.80,593.42 385.13,591.78 C386.47,590.14 387.81,588.48 389.15,586.81 C390.49,585.14 391.83,583.46 393.16,581.77 C394.50,580.09 395.84,578.39 397.18,576.70 C398.52,575.01 399.86,573.31 401.20,571.62 C402.53,569.93 403.87,568.24 405.21,566.56 C406.55,564.88 407.89,563.20 409.23,561.55 C410.57,559.90 411.90,558.20 413.24,556.66 C414.58,555.12 415.92,553.57 417.26,552.31 C418.60,551.05 419.93,549.88 421.27,549.09 C422.61,548.31 423.95,547.73 425.29,547.59 C426.63,547.46 427.97,547.71 429.30,548.26 C430.64,548.81 431.98,549.77 433.32,550.91 C434.66,552.05 436.00,553.54 437.34,555.08 C438.67,556.62 440.01,558.40 441.35,560.15 C442.69,561.90 444.03,563.74 445.37,565.57 C446.70,567.39 448.04,569.25 449.38,571.08 C450.72,572.91 452.06,574.73 453.40,576.53 C454.74,578.32 456.07,580.10 457.41,581.86 C458.75,583.62 460.09,585.35 461.43,587.07 C462.77,588.78 464.11,590.47 465.44,592.13 C466.78,593.79 468.12,595.43 469.46,597.03 C470.80,598.64 472.14,600.21 473.48,601.76 C474.81,603.30 476.15,604.82 477.49,606.30 C478.83,607.77 480.17,609.22 481.51,610.63 C482.84,612.04 484.18,613.41 485.52,614.74 C486.86,616.07 488.20,617.37 489.54,618.61 C490.88,619.86 492.21,621.07 493.55,622.24 C494.89,623.40 496.23,624.52 497.57,625.61 C498.91,626.69 500.25,627.73 501.58,628.73 C502.92,629.73 504.26,630.70 505.60,631.63 C506.94,632.56 508.28,633.45 509.61,634.31 C510.95,635.17 512.29,635.99 513.63,636.79 C514.97,637.58 516.31,638.35 517.65,639.08 C518.98,639.82 520.32,640.52 521.66,641.20 C523.00,641.88 524.34,642.54 525.68,643.17 C527.02,643.80 528.35,644.40 529.69,644.98 C531.03,645.57 532.37,646.13 533.71,646.67 C535.05,647.22 536.39,647.74 537.72,648.24 C539.06,648.75 540.40,649.24 541.74,649.71 C543.08,650.19 544.42,650.65 545.75,651.10 C547.09,651.54 548.43,651.98 549.77,652.40 C551.11,652.83 552.45,653.24 553.79,653.65 C555.12,654.06 556.46,654.46 557.80,654.85 C559.14,655.24 560.48,655.62 561.82,655.99 C563.16,656.37 564.49,656.73 565.83,657.09 C567.17,657.44 568.51,657.79 569.85,658.13 C571.19,658.48 572.52,658.81 573.86,659.13 C575.20,659.46 576.54,659.78 577.88,660.09 C579.22,660.40 580.56,660.70 581.89,660.99 C583.23,661.29 584.57,661.58 585.91,661.86 C587.25,662.14 588.59,662.41 589.93,662.68 C591.26,662.94 592.60,663.20 593.94,663.45 C595.28,663.71 596.62,663.95 597.96,664.19 C599.30,664.43 600.63,664.66 601.97,664.89 C603.31,665.11 604.65,665.33 605.99,665.54 C607.33,665.76 608.66,665.96 610.00,666.16 C611.34,666.36 612.68,666.56 614.02,666.74 C615.36,666.93 616.70,667.11 618.03,667.29 C619.37,667.47 620.71,667.64 622.05,667.80 C623.39,667.97 624.73,668.12 626.07,668.28 C627.40,668.43 628.74,668.58 630.08,668.72 C631.42,668.87 632.76,669.00 634.10,669.14 C635.43,669.27 636.77,669.39 638.11,669.52 C639.45,669.64 640.79,669.76 642.13,669.87 C643.47,669.98 644.80,670.09 646.14,670.19 C647.48,670.30 648.82,670.40 650.16,670.49 C651.50,670.58 652.84,670.67 654.17,670.76 C655.51,670.85 656.85,670.93 658.19,671.01 C659.53,671.08 660.87,671.16 662.20,671.23 C663.54,671.30 664.88,671.36 666.22,671.42 C667.56,671.48 668.90,671.54 670.24,671.60 C671.57,671.65 672.91,671.70 674.25,671.75 C675.59,671.80 676.93,671.84 678.27,671.89 C679.61,671.93 680.94,671.97 682.28,672.00 C683.62,672.04 684.96,672.07 686.30,672.10 C687.64,672.13 688.98,672.15 690.31,672.18 C691.65,672.20 692.99,672.22 694.33,672.24 C695.67,672.26 697.01,672.28 698.34,672.29 C699.68,672.30 701.02,672.32 702.36,672.33 C703.70,672.34 705.04,672.34 706.38,672.35 C707.71,672.35 709.05,672.36 710.39,672.36 C711.73,672.36 713.07,672.36 714.41,672.36 C715.75,672.36 717.08,672.36 718.42,672.35 C719.76,672.35 721.10,672.34 722.44,672.33 C723.78,672.33 725.11,672.32 726.45,672.31 C727.79,672.30 729.13,672.29 730.47,672.28 C731.81,672.27 733.15,672.26 734.48,672.24 C735.82,672.23 737.83,672.21 738.50,672.20" fill="none" stroke="#d4093a" stroke-width="4.8" stroke-dasharray="12.3 5.7 3.5 5.7" stroke-dashoffset="2.63"/>
<path d="M92.00,672.34 C92.67,672.33 94.68,672.29 96.02,672.26 C97.35,672.24 98.69,672.21 100.03,672.18 C101.37,672.16 102.71,672.13 104.05,672.11 C105.39,672.09 106.72,672.06 108.06,672.04 C109.40,672.02 110.74,672.00 112.08,671.97 C113.42,671.95 114.75,671.93 116.09,671.91 C117.43,671.89 118.77,671.88 120.11,671.86 C121.45,671.84 122.79,671.83 124.12,671.81 C125.46,671.80 126.80,671.78 128.14,671.77 C129.48,671.76 130.82,671.75 132.16,671.74 C133.49,671.73 134.83,671.72 136.17,671.71 C137.51,671.71 138.85,671.70 140.19,671.70 C141.52,671.69 142.86,671.69 144.20,671.69 C145.54,671.69 146.88,671.69 148.22,671.70 C149.56,671.70 150.89,671.70 152.23,671.71 C153.57,671.72 154.91,671.73 156.25,671.74 C157.59,671.75 158.93,671.76 160.26,671.77 C161.60,671.79 162.94,671.81 164.28,671.83 C165.62,671.84 166.96,671.87 168.30,671.89 C169.63,671.91 170.97,671.94 172.31,671.97 C173.65,672.00 174.99,672.03 176.33,672.06 C177.66,672.09 179.00,672.13 180.34,672.17 C181.68,672.21 183.02,672.25 184.36,672.29 C185.70,672.33 187.03,672.38 188.37,672.43 C189.71,672.48 191.05,672.53 192.39,672.58 C193.73,672.64 195.07,672.70 196.40,672.76 C197.74,672.82 199.08,672.88 200.42,672.95 C201.76,673.02 203.10,673.09 204.43,673.16 C205.77,673.23 207.11,673.31 208.45,673.39 C209.79,673.47 211.13,673.55 212.47,673.64 C213.80,673.73 215.14,673.82 216.48,673.91 C217.82,674.00 219.16,674.10 220.50,674.20 C221.84,674.30 223.17,674.40 224.51,674.51 C225.85,674.62 227.19,674.73 228.53,674.85 C229.87,674.96 231.20,675.08 232.54,675.21 C233.88,675.33 235.22,675.46 236.56,675.59 C237.90,675.72 239.24,675.85 240.57,675.99 C241.91,676.13 243.25,676.28 244.59,676.42 C245.93,676.57 247.27,676.72 248.61,676.88 C249.94,677.04 251.28,677.20 252.62,677.36 C253.96,677.53 255.30,677.70 256.64,677.87 C257.98,678.04 259.31,678.22 260.65,678.41 C261.99,678.59 263.33,678.78 264.67,678.97 C266.01,679.17 267.34,679.37 268.68,679.58 C270.02,679.78 271.36,680.00 272.70,680.23 C274.04,680.45 275.38,680.68 276.71,680.93 C278.05,681.17 279.39,681.43 280.73,681.69 C282.07,681.96 283.41,682.24 284.75,682.53 C286.08,682.82 287.42,683.12 288.76,683.44 C290.10,683.76 291.44,684.09 292.78,684.44 C294.11,684.79 295.45,685.15 296.79,685.53 C298.13,685.91 299.47,686.31 300.81,686.72 C302.15,687.14 303.48,687.57 304.82,688.03 C306.16,688.48 307.50,688.95 308.84,689.45 C310.18,689.94 311.52,690.46 312.85,691.00 C314.19,691.54 315.53,692.10 316.87,692.68 C318.21,693.26 319.55,693.87 320.89,694.50 C322.22,695.14 323.56,695.79 324.90,696.48 C326.24,697.16 327.58,697.87 328.92,698.61 C330.25,699.35 331.59,700.11 332.93,700.91 C334.27,701.71 335.61,702.53 336.95,703.38 C338.29,704.24 339.62,705.12 340.96,706.04 C342.30,706.96 343.64,707.90 344.98,708.88 C346.32,709.87 347.66,710.88 348.99,711.93 C350.33,712.98 351.67,714.06 353.01,715.18 C354.35,716.30 355.69,717.45 357.02,718.64 C358.36,719.84 359.70,721.07 361.04,722.33 C362.38,723.60 363.72,724.90 365.06,726.24 C366.39,727.58 367.73,728.95 369.07,730.36 C370.41,731.76 371.75,733.20 373.09,734.66 C374.43,736.13 375.76,737.62 377.10,739.14 C378.44,740.66 379.78,742.20 381.12,743.77 C382.46,745.33 383.80,746.93 385.13,748.53 C386.47,750.14 387.81,751.77 389.15,753.42 C390.49,755.06 391.83,756.73 393.16,758.40 C394.50,760.08 395.84,761.77 397.18,763.47 C398.52,765.17 399.86,766.89 401.20,768.61 C402.53,770.33 403.87,772.06 405.21,773.79 C406.55,775.52 407.89,777.27 409.23,779.00 C410.57,780.73 411.90,782.54 413.24,784.18 C414.58,785.81 415.92,787.48 417.26,788.83 C418.60,790.18 419.93,791.44 421.27,792.28 C422.61,793.12 423.95,793.73 425.29,793.86 C426.63,794.00 427.97,793.68 429.30,793.10 C430.64,792.52 431.98,791.51 433.32,790.37 C434.66,789.23 436.00,787.77 437.34,786.27 C438.67,784.77 440.01,783.06 441.35,781.39 C442.69,779.71 444.03,777.96 445.37,776.22 C446.70,774.47 448.04,772.69 449.38,770.90 C450.72,769.12 452.06,767.31 453.40,765.50 C454.74,763.69 456.07,761.87 457.41,760.06 C458.75,758.25 460.09,756.43 461.43,754.64 C462.77,752.84 464.11,751.05 465.44,749.29 C466.78,747.53 468.12,745.78 469.46,744.07 C470.80,742.36 472.14,740.67 473.48,739.03 C474.81,737.39 476.15,735.78 477.49,734.22 C478.83,732.67 480.17,731.16 481.51,729.71 C482.84,728.26 484.18,726.86 485.52,725.51 C486.86,724.16 488.20,722.87 489.54,721.62 C490.88,720.36 492.21,719.16 493.55,718.00 C494.89,716.84 496.23,715.73 497.57,714.66 C498.91,713.59 500.25,712.56 501.58,711.57 C502.92,710.57 504.26,709.62 505.60,708.71 C506.94,707.79 508.28,706.91 509.61,706.07 C510.95,705.22 512.29,704.41 513.63,703.62 C514.97,702.84 516.31,702.09 517.65,701.37 C518.98,700.64 520.32,699.95 521.66,699.28 C523.00,698.60 524.34,697.96 525.68,697.33 C527.02,696.71 528.35,696.11 529.69,695.53 C531.03,694.94 532.37,694.38 533.71,693.84 C535.05,693.29 536.39,692.76 537.72,692.24 C539.06,691.73 540.40,691.23 541.74,690.73 C543.08,690.24 544.42,689.77 545.75,689.30 C547.09,688.83 548.43,688.38 549.77,687.94 C551.11,687.49 552.45,687.06 553.79,686.64 C555.12,686.22 556.46,685.82 557.80,685.42 C559.14,685.02 560.48,684.63 561.82,684.26 C563.16,683.88 564.49,683.52 565.83,683.17 C567.17,682.81 568.51,682.47 569.85,682.13 C571.19,681.80 572.52,681.48 573.86,681.16 C575.20,680.85 576.54,680.55 577.88,680.25 C579.22,679.96 580.56,679.68 581.89,679.40 C583.23,679.13 584.57,678.86 585.91,678.61 C587.25,678.35 588.59,678.10 589.93,677.86 C591.26,677.62 592.60,677.39 593.94,677.17 C595.28,676.95 596.62,676.74 597.96,676.53 C599.30,676.33 600.63,676.13 601.97,675.94 C603.31,675.75 604.65,675.57 605.99,675.40 C607.33,675.23 608.66,675.06 610.00,674.90 C611.34,674.74 612.68,674.59 614.02,674.45 C615.36,674.30 616.70,674.17 618.03,674.04 C619.37,673.91 620.71,673.78 622.05,673.67 C623.39,673.55 624.73,673.44 626.07,673.33 C627.40,673.23 628.74,673.13 630.08,673.03 C631.42,672.94 632.76,672.85 634.10,672.77 C635.43,672.69 636.77,672.62 638.11,672.54 C639.45,672.47 640.79,672.41 642.13,672.35 C643.47,672.29 644.80,672.23 646.14,672.18 C647.48,672.13 648.82,672.08 650.16,672.04 C651.50,672.00 652.84,671.96 654.17,671.93 C655.51,671.89 656.85,671.86 658.19,671.84 C659.53,671.81 660.87,671.79 662.20,671.77 C663.54,671.75 664.88,671.74 666.22,671.72 C667.56,671.71 668.90,671.70 670.24,671.70 C671.57,671.69 672.91,671.69 674.25,671.69 C675.59,671.69 676.93,671.69 678.27,671.69 C679.61,671.70 680.94,671.71 682.28,671.72 C683.62,671.72 684.96,671.73 686.30,671.75 C687.64,671.76 688.98,671.77 690.31,671.79 C691.65,671.81 692.99,671.82 694.33,671.84 C695.67,671.86 697.01,671.88 698.34,671.90 C699.68,671.92 701.02,671.94 702.36,671.96 C703.70,671.98 705.04,672.01 706.38,672.03 C707.71,672.05 709.05,672.07 710.39,672.10 C711.73,672.12 713.07,672.14 714.41,672.17 C715.75,672.19 717.08,672.21 718.42,672.23 C719.76,672.25 721.10,672.27 722.44,672.29 C723.78,672.31 725.11,672.33 726.45,672.35 C727.79,672.37 729.13,672.39 730.47,672.40 C731.81,672.42 733.15,672.43 734.48,672.44 C735.82,672.45 737.83,672.47 738.50,672.47" fill="none" stroke="#d4093a" stroke-width="4.8" stroke-dasharray="12.3 5.7 3.5 5.7" stroke-dashoffset="2.19"/>
<path d="M92.00,667.03 C92.67,666.98 94.68,666.83 96.02,666.73 C97.35,666.62 98.69,666.52 100.03,666.41 C101.37,666.31 102.71,666.20 104.05,666.09 C105.39,665.98 106.72,665.87 108.06,665.76 C109.40,665.64 110.74,665.52 112.08,665.41 C113.42,665.29 114.75,665.17 116.09,665.04 C117.43,664.92 118.77,664.79 120.11,664.66 C121.45,664.53 122.79,664.40 124.12,664.26 C125.46,664.12 126.80,663.98 128.14,663.84 C129.48,663.70 130.82,663.55 132.16,663.40 C133.49,663.25 134.83,663.10 136.17,662.94 C137.51,662.78 138.85,662.62 140.19,662.45 C141.52,662.29 142.86,662.12 144.20,661.94 C145.54,661.77 146.88,661.59 148.22,661.41 C149.56,661.23 150.89,661.04 152.23,660.85 C153.57,660.65 154.91,660.46 156.25,660.26 C157.59,660.05 158.93,659.85 160.26,659.64 C161.60,659.42 162.94,659.21 164.28,658.98 C165.62,658.76 166.96,658.53 168.30,658.30 C169.63,658.07 170.97,657.83 172.31,657.58 C173.65,657.34 174.99,657.09 176.33,656.83 C177.66,656.57 179.00,656.31 180.34,656.04 C181.68,655.77 183.02,655.50 184.36,655.22 C185.70,654.94 187.03,654.65 188.37,654.35 C189.71,654.06 191.05,653.76 192.39,653.45 C193.73,653.14 195.07,652.82 196.40,652.50 C197.74,652.18 199.08,651.85 200.42,651.51 C201.76,651.18 203.10,650.83 204.43,650.48 C205.77,650.12 207.11,649.76 208.45,649.38 C209.79,649.00 211.13,648.61 212.47,648.20 C213.80,647.79 215.14,647.37 216.48,646.93 C217.82,646.48 219.16,646.02 220.50,645.54 C221.84,645.05 223.17,644.54 224.51,644.01 C225.85,643.47 227.19,642.92 228.53,642.33 C229.87,641.74 231.20,641.12 232.54,640.47 C233.88,639.82 235.22,639.14 236.56,638.43 C237.90,637.71 239.24,636.96 240.57,636.18 C241.91,635.39 243.25,634.56 244.59,633.70 C245.93,632.83 247.27,631.92 248.61,630.97 C249.94,630.02 251.28,629.02 252.62,627.98 C253.96,626.94 255.30,625.85 256.64,624.71 C257.98,623.57 259.31,622.38 260.65,621.14 C261.99,619.89 263.33,618.60 264.67,617.26 C266.01,615.92 267.34,614.53 268.68,613.11 C270.02,611.69 271.36,610.23 272.70,608.74 C274.04,607.25 275.38,605.73 276.71,604.18 C278.05,602.64 279.39,601.07 280.73,599.49 C282.07,597.90 283.41,596.30 284.75,594.69 C286.08,593.08 287.42,591.46 288.76,589.82 C290.10,588.17 291.44,586.52 292.78,584.82 C294.11,583.12 295.45,581.39 296.79,579.61 C298.13,577.83 299.47,575.98 300.81,574.12 C302.15,572.26 303.48,570.27 304.82,568.44 C306.16,566.62 307.50,564.79 308.84,563.18 C310.18,561.58 311.52,560.10 312.85,558.81 C314.19,557.52 315.53,556.39 316.87,555.46 C318.21,554.53 319.55,553.76 320.89,553.21 C322.22,552.66 323.56,552.29 324.90,552.16 C326.24,552.02 327.58,552.06 328.92,552.39 C330.25,552.72 331.59,553.25 332.93,554.13 C334.27,555.00 335.61,556.24 336.95,557.64 C338.29,559.04 339.62,560.80 340.96,562.51 C342.30,564.23 343.64,566.12 344.98,567.94 C346.32,569.76 347.66,571.61 348.99,573.44 C350.33,575.28 351.67,577.12 353.01,578.95 C354.35,580.78 355.69,582.61 357.02,584.42 C358.36,586.24 359.70,588.05 361.04,589.83 C362.38,591.61 363.72,593.39 365.06,595.13 C366.39,596.87 367.73,598.59 369.07,600.28 C370.41,601.97 371.75,603.63 373.09,605.25 C374.43,606.87 375.76,608.45 377.10,609.99 C378.44,611.53 379.78,613.03 381.12,614.47 C382.46,615.92 383.80,617.32 385.13,618.66 C386.47,620.00 387.81,621.28 389.15,622.50 C390.49,623.72 391.83,624.88 393.16,625.97 C394.50,627.07 395.84,628.10 397.18,629.08 C398.52,630.06 399.86,630.99 401.20,631.87 C402.53,632.75 403.87,633.57 405.21,634.36 C406.55,635.16 407.89,635.90 409.23,636.61 C410.57,637.33 411.90,638.00 413.24,638.65 C414.58,639.30 415.92,639.92 417.26,640.51 C418.60,641.11 419.93,641.68 421.27,642.24 C422.61,642.80 423.95,643.34 425.29,643.87 C426.63,644.39 427.97,644.90 429.30,645.40 C430.64,645.89 431.98,646.38 433.32,646.84 C434.66,647.31 436.00,647.77 437.34,648.22 C438.67,648.66 440.01,649.09 441.35,649.52 C442.69,649.94 444.03,650.35 445.37,650.76 C446.70,651.17 448.04,651.56 449.38,651.95 C450.72,652.34 452.06,652.72 453.40,653.10 C454.74,653.47 456.07,653.84 457.41,654.21 C458.75,654.57 460.09,654.92 461.43,655.27 C462.77,655.62 464.11,655.97 465.44,656.30 C466.78,656.64 468.12,656.97 469.46,657.29 C470.80,657.62 472.14,657.93 473.48,658.25 C474.81,658.56 476.15,658.86 477.49,659.16 C478.83,659.46 480.17,659.75 481.51,660.04 C482.84,660.32 484.18,660.60 485.52,660.88 C486.86,661.15 488.20,661.42 489.54,661.68 C490.88,661.94 492.21,662.19 493.55,662.44 C494.89,662.69 496.23,662.94 497.57,663.17 C498.91,663.41 500.25,663.64 501.58,663.86 C502.92,664.09 504.26,664.31 505.60,664.52 C506.94,664.73 508.28,664.94 509.61,665.14 C510.95,665.34 512.29,665.54 513.63,665.73 C514.97,665.92 516.31,666.10 517.65,666.28 C518.98,666.46 520.32,666.63 521.66,666.80 C523.00,666.96 524.34,667.13 525.68,667.28 C527.02,667.44 528.35,667.59 529.69,667.73 C531.03,667.87 532.37,668.01 533.71,668.14 C535.05,668.28 536.39,668.40 537.72,668.53 C539.06,668.65 540.40,668.76 541.74,668.88 C543.08,668.99 544.42,669.09 545.75,669.19 C547.09,669.29 548.43,669.39 549.77,669.48 C551.11,669.57 552.45,669.65 553.79,669.73 C555.12,669.81 556.46,669.89 557.80,669.96 C559.14,670.03 560.48,670.10 561.82,670.16 C563.16,670.22 564.49,670.28 565.83,670.33 C567.17,670.38 568.51,670.43 569.85,670.48 C571.19,670.52 572.52,670.56 573.86,670.60 C575.20,670.64 576.54,670.67 577.88,670.70 C579.22,670.73 580.56,670.76 581.89,670.78 C583.23,670.80 584.57,670.82 585.91,670.84 C587.25,670.86 588.59,670.87 589.93,670.88 C591.26,670.89 592.60,670.89 593.94,670.90 C595.28,670.90 596.62,670.90 597.96,670.90 C599.30,670.90 600.63,670.90 601.97,670.89 C603.31,670.89 604.65,670.88 605.99,670.87 C607.33,670.86 608.66,670.84 610.00,670.83 C611.34,670.81 612.68,670.79 614.02,670.78 C615.36,670.76 616.70,670.74 618.03,670.71 C619.37,670.69 620.71,670.67 622.05,670.64 C623.39,670.62 624.73,670.59 626.07,670.56 C627.40,670.53 628.74,670.50 630.08,670.47 C631.42,670.44 632.76,670.41 634.10,670.38 C635.43,670.35 636.77,670.32 638.11,670.28 C639.45,670.25 640.79,670.22 642.13,670.18 C643.47,670.15 644.80,670.11 646.14,670.08 C647.48,670.04 648.82,670.01 650.16,669.97 C651.50,669.94 652.84,669.90 654.17,669.86 C655.51,669.83 656.85,669.79 658.19,669.76 C659.53,669.73 660.87,669.69 662.20,669.66 C663.54,669.62 664.88,669.59 666.22,669.56 C667.56,669.53 668.90,669.50 670.24,669.46 C671.57,669.43 672.91,669.40 674.25,669.38 C675.59,669.35 676.93,669.32 678.27,669.30 C679.61,669.27 680.94,669.25 682.28,669.22 C683.62,669.20 684.96,669.18 686.30,669.16 C687.64,669.14 688.98,669.12 690.31,669.11 C691.65,669.09 692.99,669.08 694.33,669.07 C695.67,669.06 697.01,669.05 698.34,669.04 C699.68,669.03 701.02,669.03 702.36,669.03 C703.70,669.02 705.04,669.03 706.38,669.03 C707.71,669.03 709.05,669.04 710.39,669.05 C711.73,669.06 713.07,669.07 714.41,669.08 C715.75,669.10 717.08,669.12 718.42,669.14 C719.76,669.16 721.10,669.19 722.44,669.22 C723.78,669.25 725.11,669.28 726.45,669.32 C727.79,669.35 729.13,669.39 730.47,669.44 C731.81,669.48 733.15,669.53 734.48,669.58 C735.82,669.63 737.83,669.72 738.50,669.75" fill="none" stroke="#fd9a31" stroke-width="4.8"/>
<path d="M92.00,673.68 C92.67,673.74 94.68,673.95 96.02,674.09 C97.35,674.23 98.69,674.37 100.03,674.51 C101.37,674.65 102.71,674.79 104.05,674.93 C105.39,675.08 106.72,675.22 108.06,675.37 C109.40,675.52 110.74,675.66 112.08,675.81 C113.42,675.96 114.75,676.11 116.09,676.27 C117.43,676.42 118.77,676.57 120.11,676.73 C121.45,676.89 122.79,677.04 124.12,677.20 C125.46,677.36 126.80,677.52 128.14,677.69 C129.48,677.85 130.82,678.02 132.16,678.19 C133.49,678.35 134.83,678.52 136.17,678.70 C137.51,678.87 138.85,679.04 140.19,679.22 C141.52,679.40 142.86,679.58 144.20,679.76 C145.54,679.94 146.88,680.13 148.22,680.31 C149.56,680.50 150.89,680.69 152.23,680.88 C153.57,681.07 154.91,681.27 156.25,681.47 C157.59,681.67 158.93,681.87 160.26,682.07 C161.60,682.27 162.94,682.48 164.28,682.69 C165.62,682.90 166.96,683.11 168.30,683.33 C169.63,683.54 170.97,683.76 172.31,683.99 C173.65,684.21 174.99,684.43 176.33,684.66 C177.66,684.89 179.00,685.12 180.34,685.36 C181.68,685.60 183.02,685.84 184.36,686.08 C185.70,686.33 187.03,686.58 188.37,686.84 C189.71,687.10 191.05,687.36 192.39,687.64 C193.73,687.91 195.07,688.20 196.40,688.49 C197.74,688.79 199.08,689.09 200.42,689.41 C201.76,689.74 203.10,690.07 204.43,690.42 C205.77,690.76 207.11,691.13 208.45,691.51 C209.79,691.89 211.13,692.28 212.47,692.70 C213.80,693.12 215.14,693.55 216.48,694.01 C217.82,694.46 219.16,694.94 220.50,695.44 C221.84,695.94 223.17,696.46 224.51,697.00 C225.85,697.55 227.19,698.12 228.53,698.72 C229.87,699.32 231.20,699.94 232.54,700.59 C233.88,701.24 235.22,701.92 236.56,702.63 C237.90,703.34 239.24,704.08 240.57,704.85 C241.91,705.63 243.25,706.43 244.59,707.27 C245.93,708.11 247.27,708.98 248.61,709.89 C249.94,710.80 251.28,711.74 252.62,712.72 C253.96,713.70 255.30,714.72 256.64,715.78 C257.98,716.84 259.31,717.94 260.65,719.08 C261.99,720.22 263.33,721.41 264.67,722.64 C266.01,723.87 267.34,725.15 268.68,726.47 C270.02,727.80 271.36,729.17 272.70,730.60 C274.04,732.03 275.38,733.51 276.71,735.04 C278.05,736.58 279.39,738.17 280.73,739.82 C282.07,741.47 283.41,743.17 284.75,744.94 C286.08,746.71 287.42,748.56 288.76,750.43 C290.10,752.30 291.44,754.24 292.78,756.17 C294.11,758.09 295.45,760.06 296.79,761.99 C298.13,763.91 299.47,765.85 300.81,767.72 C302.15,769.58 303.48,771.44 304.82,773.17 C306.16,774.91 307.50,776.60 308.84,778.13 C310.18,779.66 311.52,781.10 312.85,782.35 C314.19,783.60 315.53,784.72 316.87,785.61 C318.21,786.50 319.55,787.22 320.89,787.69 C322.22,788.16 323.56,788.42 324.90,788.45 C326.24,788.48 327.58,788.29 328.92,787.88 C330.25,787.47 331.59,786.83 332.93,785.97 C334.27,785.12 335.61,784.00 336.95,782.73 C338.29,781.47 339.62,779.96 340.96,778.37 C342.30,776.79 343.64,775.02 344.98,773.22 C346.32,771.43 347.66,769.51 348.99,767.62 C350.33,765.73 351.67,763.78 353.01,761.89 C354.35,760.00 355.69,758.13 357.02,756.29 C358.36,754.46 359.70,752.65 361.04,750.87 C362.38,749.10 363.72,747.35 365.06,745.65 C366.39,743.94 367.73,742.26 369.07,740.63 C370.41,738.99 371.75,737.39 373.09,735.84 C374.43,734.28 375.76,732.76 377.10,731.28 C378.44,729.81 379.78,728.37 381.12,726.98 C382.46,725.59 383.80,724.25 385.13,722.95 C386.47,721.66 387.81,720.41 389.15,719.21 C390.49,718.01 391.83,716.87 393.16,715.77 C394.50,714.67 395.84,713.62 397.18,712.61 C398.52,711.60 399.86,710.65 401.20,709.73 C402.53,708.81 403.87,707.93 405.21,707.09 C406.55,706.25 407.89,705.45 409.23,704.68 C410.57,703.91 411.90,703.17 413.24,702.47 C414.58,701.76 415.92,701.09 417.26,700.44 C418.60,699.80 419.93,699.18 421.27,698.58 C422.61,697.98 423.95,697.41 425.29,696.86 C426.63,696.30 427.97,695.77 429.30,695.25 C430.64,694.73 431.98,694.24 433.32,693.75 C434.66,693.26 436.00,692.78 437.34,692.31 C438.67,691.85 440.01,691.39 441.35,690.94 C442.69,690.49 444.03,690.06 445.37,689.63 C446.70,689.20 448.04,688.78 449.38,688.38 C450.72,687.97 452.06,687.57 453.40,687.18 C454.74,686.79 456.07,686.41 457.41,686.04 C458.75,685.67 460.09,685.30 461.43,684.95 C462.77,684.60 464.11,684.25 465.44,683.92 C466.78,683.58 468.12,683.25 469.46,682.93 C470.80,682.62 472.14,682.31 473.48,682.00 C474.81,681.70 476.15,681.41 477.49,681.12 C478.83,680.84 480.17,680.56 481.51,680.29 C482.84,680.02 484.18,679.76 485.52,679.50 C486.86,679.25 488.20,679.00 489.54,678.76 C490.88,678.52 492.21,678.29 493.55,678.07 C494.89,677.84 496.23,677.63 497.57,677.42 C498.91,677.21 500.25,677.00 501.58,676.81 C502.92,676.61 504.26,676.42 505.60,676.24 C506.94,676.06 508.28,675.88 509.61,675.71 C510.95,675.54 512.29,675.38 513.63,675.22 C514.97,675.06 516.31,674.91 517.65,674.77 C518.98,674.62 520.32,674.49 521.66,674.35 C523.00,674.22 524.34,674.09 525.68,673.97 C527.02,673.85 528.35,673.74 529.69,673.63 C531.03,673.52 532.37,673.41 533.71,673.31 C535.05,673.21 536.39,673.12 537.72,673.03 C539.06,672.94 540.40,672.86 541.74,672.78 C543.08,672.70 544.42,672.62 545.75,672.55 C547.09,672.48 548.43,672.42 549.77,672.36 C551.11,672.30 552.45,672.24 553.79,672.19 C555.12,672.14 556.46,672.09 557.80,672.05 C559.14,672.00 560.48,671.96 561.82,671.93 C563.16,671.89 564.49,671.86 565.83,671.83 C567.17,671.80 568.51,671.78 569.85,671.76 C571.19,671.73 572.52,671.72 573.86,671.70 C575.20,671.69 576.54,671.68 577.88,671.67 C579.22,671.66 580.56,671.65 581.89,671.65 C583.23,671.65 584.57,671.65 585.91,671.65 C587.25,671.66 588.59,671.66 589.93,671.67 C591.26,671.68 592.60,671.69 593.94,671.70 C595.28,671.71 596.62,671.73 597.96,671.75 C599.30,671.76 600.63,671.78 601.97,671.80 C603.31,671.82 604.65,671.85 605.99,671.87 C607.33,671.89 608.66,671.92 610.00,671.95 C611.34,671.97 612.68,672.00 614.02,672.03 C615.36,672.06 616.70,672.09 618.03,672.13 C619.37,672.16 620.71,672.19 622.05,672.23 C623.39,672.26 624.73,672.29 626.07,672.33 C627.40,672.37 628.74,672.40 630.08,672.44 C631.42,672.47 632.76,672.51 634.10,672.55 C635.43,672.59 636.77,672.62 638.11,672.66 C639.45,672.70 640.79,672.74 642.13,672.77 C643.47,672.81 644.80,672.85 646.14,672.88 C647.48,672.92 648.82,672.96 650.16,672.99 C651.50,673.03 652.84,673.06 654.17,673.10 C655.51,673.13 656.85,673.16 658.19,673.20 C659.53,673.23 660.87,673.26 662.20,673.29 C663.54,673.32 664.88,673.35 666.22,673.38 C667.56,673.41 668.90,673.43 670.24,673.46 C671.57,673.48 672.91,673.50 674.25,673.53 C675.59,673.55 676.93,673.57 678.27,673.58 C679.61,673.60 680.94,673.62 682.28,673.63 C683.62,673.64 684.96,673.66 686.30,673.66 C687.64,673.67 688.98,673.68 690.31,673.68 C691.65,673.69 692.99,673.69 694.33,673.69 C695.67,673.68 697.01,673.68 698.34,673.67 C699.68,673.66 701.02,673.65 702.36,673.64 C703.70,673.63 705.04,673.61 706.38,673.59 C707.71,673.57 709.05,673.55 710.39,673.52 C711.73,673.49 713.07,673.46 714.41,673.42 C715.75,673.39 717.08,673.35 718.42,673.31 C719.76,673.27 721.10,673.22 722.44,673.17 C723.78,673.12 725.11,673.06 726.45,673.00 C727.79,672.94 729.13,672.88 730.47,672.81 C731.81,672.74 733.15,672.67 734.48,672.59 C735.82,672.51 737.83,672.39 738.50,672.34" fill="none" stroke="#fd9a31" stroke-width="4.8"/>
<path d="M92.00,668.49 C92.67,668.45 94.68,668.34 96.02,668.27 C97.35,668.21 98.69,668.15 100.03,668.10 C101.37,668.05 102.71,668.01 104.05,667.97 C105.39,667.93 106.72,667.90 108.06,667.87 C109.40,667.84 110.74,667.81 112.08,667.79 C113.42,667.77 114.75,667.76 116.09,667.75 C117.43,667.73 118.77,667.73 120.11,667.72 C121.45,667.71 122.79,667.71 124.12,667.71 C125.46,667.71 126.80,667.71 128.14,667.71 C129.48,667.71 130.82,667.71 132.16,667.72 C133.49,667.72 134.83,667.72 136.17,667.73 C137.51,667.73 138.85,667.73 140.19,667.73 C141.52,667.74 142.86,667.74 144.20,667.74 C145.54,667.74 146.88,667.73 148.22,667.73 C149.56,667.72 150.89,667.72 152.23,667.71 C153.57,667.70 154.91,667.68 156.25,667.66 C157.59,667.65 158.93,667.63 160.26,667.60 C161.60,667.57 162.94,667.54 164.28,667.51 C165.62,667.47 166.96,667.43 168.30,667.38 C169.63,667.34 170.97,667.28 172.31,667.22 C173.65,667.16 174.99,667.10 176.33,667.02 C177.66,666.95 179.00,666.87 180.34,666.78 C181.68,666.69 183.02,666.59 184.36,666.48 C185.70,666.37 187.03,666.26 188.37,666.13 C189.71,666.01 191.05,665.87 192.39,665.73 C193.73,665.58 195.07,665.42 196.40,665.26 C197.74,665.09 199.08,664.91 200.42,664.72 C201.76,664.53 203.10,664.33 204.43,664.11 C205.77,663.90 207.11,663.67 208.45,663.43 C209.79,663.19 211.13,662.94 212.47,662.68 C213.80,662.41 215.14,662.14 216.48,661.85 C217.82,661.56 219.16,661.27 220.50,660.96 C221.84,660.65 223.17,660.34 224.51,660.01 C225.85,659.69 227.19,659.35 228.53,659.01 C229.87,658.66 231.20,658.31 232.54,657.95 C233.88,657.59 235.22,657.22 236.56,656.85 C237.90,656.47 239.24,656.09 240.57,655.70 C241.91,655.32 243.25,654.92 244.59,654.52 C245.93,654.12 247.27,653.71 248.61,653.30 C249.94,652.88 251.28,652.46 252.62,652.02 C253.96,651.59 255.30,651.15 256.64,650.70 C257.98,650.25 259.31,649.78 260.65,649.31 C261.99,648.84 263.33,648.35 264.67,647.86 C266.01,647.36 267.34,646.85 268.68,646.33 C270.02,645.81 271.36,645.27 272.70,644.72 C274.04,644.17 275.38,643.61 276.71,643.02 C278.05,642.44 279.39,641.85 280.73,641.23 C282.07,640.61 283.41,639.97 284.75,639.30 C286.08,638.63 287.42,637.94 288.76,637.22 C290.10,636.50 291.44,635.75 292.78,634.96 C294.11,634.18 295.45,633.36 296.79,632.50 C298.13,631.64 299.47,630.75 300.81,629.81 C302.15,628.87 303.48,627.89 304.82,626.86 C306.16,625.84 307.50,624.76 308.84,623.64 C310.18,622.51 311.52,621.34 312.85,620.12 C314.19,618.90 315.53,617.64 316.87,616.32 C318.21,615.01 319.55,613.65 320.89,612.25 C322.22,610.85 323.56,609.40 324.90,607.91 C326.24,606.42 327.58,604.88 328.92,603.31 C330.25,601.73 331.59,600.11 332.93,598.45 C334.27,596.79 335.61,595.09 336.95,593.35 C338.29,591.61 339.62,589.83 340.96,588.01 C342.30,586.19 343.64,584.34 344.98,582.44 C346.32,580.54 347.66,578.61 348.99,576.63 C350.33,574.65 351.67,572.61 353.01,570.57 C354.35,568.53 355.69,566.38 357.02,564.39 C358.36,562.40 359.70,560.39 361.04,558.62 C362.38,556.86 363.72,555.19 365.06,553.81 C366.39,552.43 367.73,551.24 369.07,550.33 C370.41,549.42 371.75,548.75 373.09,548.34 C374.43,547.93 375.76,547.77 377.10,547.86 C378.44,547.95 379.78,548.29 381.12,548.86 C382.46,549.44 383.80,550.28 385.13,551.32 C386.47,552.36 387.81,553.67 389.15,555.11 C390.49,556.54 391.83,558.20 393.16,559.93 C394.50,561.66 395.84,563.56 397.18,565.48 C398.52,567.40 399.86,569.43 401.20,571.43 C402.53,573.42 403.87,575.47 405.21,577.47 C406.55,579.47 407.89,581.47 409.23,583.43 C410.57,585.39 411.90,587.34 413.24,589.24 C414.58,591.14 415.92,593.00 417.26,594.82 C418.60,596.63 419.93,598.41 421.27,600.13 C422.61,601.85 423.95,603.53 425.29,605.15 C426.63,606.76 427.97,608.33 429.30,609.83 C430.64,611.33 431.98,612.78 433.32,614.16 C434.66,615.54 436.00,616.85 437.34,618.09 C438.67,619.34 440.01,620.52 441.35,621.64 C442.69,622.76 444.03,623.82 445.37,624.83 C446.70,625.85 448.04,626.80 449.38,627.73 C450.72,628.65 452.06,629.52 453.40,630.36 C454.74,631.20 456.07,632.00 457.41,632.79 C458.75,633.57 460.09,634.31 461.43,635.05 C462.77,635.78 464.11,636.49 465.44,637.19 C466.78,637.89 468.12,638.58 469.46,639.25 C470.80,639.92 472.14,640.59 473.48,641.23 C474.81,641.88 476.15,642.52 477.49,643.14 C478.83,643.76 480.17,644.37 481.51,644.96 C482.84,645.56 484.18,646.14 485.52,646.71 C486.86,647.28 488.20,647.84 489.54,648.38 C490.88,648.92 492.21,649.45 493.55,649.97 C494.89,650.49 496.23,650.99 497.57,651.48 C498.91,651.98 500.25,652.45 501.58,652.92 C502.92,653.39 504.26,653.84 505.60,654.28 C506.94,654.72 508.28,655.15 509.61,655.56 C510.95,655.98 512.29,656.38 513.63,656.78 C514.97,657.17 516.31,657.55 517.65,657.92 C518.98,658.29 520.32,658.65 521.66,658.99 C523.00,659.34 524.34,659.68 525.68,660.00 C527.02,660.33 528.35,660.64 529.69,660.94 C531.03,661.25 532.37,661.54 533.71,661.82 C535.05,662.11 536.39,662.38 537.72,662.64 C539.06,662.91 540.40,663.16 541.74,663.40 C543.08,663.65 544.42,663.88 545.75,664.11 C547.09,664.33 548.43,664.55 549.77,664.76 C551.11,664.96 552.45,665.16 553.79,665.35 C555.12,665.54 556.46,665.72 557.80,665.90 C559.14,666.07 560.48,666.23 561.82,666.39 C563.16,666.55 564.49,666.70 565.83,666.84 C567.17,666.98 568.51,667.11 569.85,667.24 C571.19,667.37 572.52,667.49 573.86,667.60 C575.20,667.71 576.54,667.82 577.88,667.92 C579.22,668.02 580.56,668.11 581.89,668.20 C583.23,668.28 584.57,668.36 585.91,668.44 C587.25,668.51 588.59,668.58 589.93,668.64 C591.26,668.70 592.60,668.76 593.94,668.81 C595.28,668.86 596.62,668.91 597.96,668.95 C599.30,668.99 600.63,669.03 601.97,669.06 C603.31,669.09 604.65,669.12 605.99,669.14 C607.33,669.16 608.66,669.18 610.00,669.19 C611.34,669.21 612.68,669.22 614.02,669.22 C615.36,669.23 616.70,669.23 618.03,669.23 C619.37,669.23 620.71,669.23 622.05,669.22 C623.39,669.21 624.73,669.20 626.07,669.19 C627.40,669.18 628.74,669.16 630.08,669.14 C631.42,669.12 632.76,669.10 634.10,669.08 C635.43,669.06 636.77,669.03 638.11,669.01 C639.45,668.98 640.79,668.95 642.13,668.92 C643.47,668.89 644.80,668.86 646.14,668.83 C647.48,668.80 648.82,668.76 650.16,668.73 C651.50,668.69 652.84,668.66 654.17,668.62 C655.51,668.59 656.85,668.55 658.19,668.52 C659.53,668.48 660.87,668.44 662.20,668.41 C663.54,668.37 664.88,668.33 666.22,668.30 C667.56,668.26 668.90,668.23 670.24,668.19 C671.57,668.16 672.91,668.12 674.25,668.09 C675.59,668.06 676.93,668.03 678.27,668.00 C679.61,667.97 680.94,667.94 682.28,667.91 C683.62,667.88 684.96,667.86 686.30,667.84 C687.64,667.81 688.98,667.79 690.31,667.77 C691.65,667.76 692.99,667.74 694.33,667.73 C695.67,667.71 697.01,667.70 698.34,667.69 C699.68,667.69 701.02,667.68 702.36,667.68 C703.70,667.68 705.04,667.68 706.38,667.69 C707.71,667.69 709.05,667.70 710.39,667.71 C711.73,667.73 713.07,667.75 714.41,667.77 C715.75,667.79 717.08,667.81 718.42,667.85 C719.76,667.88 721.10,667.91 722.44,667.95 C723.78,667.99 725.11,668.04 726.45,668.09 C727.79,668.14 729.13,668.19 730.47,668.26 C731.81,668.32 733.15,668.38 734.48,668.46 C735.82,668.53 737.83,668.65 738.50,668.69" fill="none" stroke="#fb6909" stroke-width="4.8" stroke-dasharray="12 6" stroke-dashoffset="17.74"/>
<path d="M92.00,672.51 C92.67,672.53 94.68,672.57 96.02,672.59 C97.35,672.61 98.69,672.63 100.03,672.64 C101.37,672.66 102.71,672.67 104.05,672.68 C105.39,672.69 106.72,672.70 108.06,672.71 C109.40,672.71 110.74,672.72 112.08,672.72 C113.42,672.72 114.75,672.73 116.09,672.73 C117.43,672.73 118.77,672.73 120.11,672.73 C121.45,672.73 122.79,672.73 124.12,672.73 C125.46,672.73 126.80,672.73 128.14,672.73 C129.48,672.73 130.82,672.73 132.16,672.74 C133.49,672.74 134.83,672.74 136.17,672.75 C137.51,672.75 138.85,672.76 140.19,672.77 C141.52,672.78 142.86,672.79 144.20,672.80 C145.54,672.81 146.88,672.83 148.22,672.85 C149.56,672.87 150.89,672.89 152.23,672.91 C153.57,672.94 154.91,672.97 156.25,673.00 C157.59,673.03 158.93,673.07 160.26,673.11 C161.60,673.15 162.94,673.20 164.28,673.25 C165.62,673.30 166.96,673.35 168.30,673.41 C169.63,673.47 170.97,673.53 172.31,673.61 C173.65,673.68 174.99,673.75 176.33,673.84 C177.66,673.92 179.00,674.01 180.34,674.10 C181.68,674.20 183.02,674.30 184.36,674.41 C185.70,674.52 187.03,674.64 188.37,674.76 C189.71,674.89 191.05,675.02 192.39,675.16 C193.73,675.30 195.07,675.45 196.40,675.61 C197.74,675.76 199.08,675.93 200.42,676.10 C201.76,676.28 203.10,676.46 204.43,676.66 C205.77,676.85 207.11,677.05 208.45,677.26 C209.79,677.48 211.13,677.70 212.47,677.93 C213.80,678.17 215.14,678.41 216.48,678.66 C217.82,678.92 219.16,679.18 220.50,679.46 C221.84,679.74 223.17,680.03 224.51,680.33 C225.85,680.63 227.19,680.94 228.53,681.26 C229.87,681.59 231.20,681.92 232.54,682.27 C233.88,682.62 235.22,682.98 236.56,683.36 C237.90,683.74 239.24,684.12 240.57,684.53 C241.91,684.93 243.25,685.35 244.59,685.77 C245.93,686.20 247.27,686.65 248.61,687.10 C249.94,687.56 251.28,688.03 252.62,688.51 C253.96,688.99 255.30,689.48 256.64,689.99 C257.98,690.49 259.31,691.01 260.65,691.54 C261.99,692.07 263.33,692.61 264.67,693.16 C266.01,693.70 267.34,694.26 268.68,694.83 C270.02,695.40 271.36,695.98 272.70,696.57 C274.04,697.16 275.38,697.76 276.71,698.37 C278.05,698.98 279.39,699.60 280.73,700.24 C282.07,700.88 283.41,701.53 284.75,702.20 C286.08,702.88 287.42,703.58 288.76,704.30 C290.10,705.03 291.44,705.78 292.78,706.56 C294.11,707.35 295.45,708.16 296.79,709.02 C298.13,709.88 299.47,710.77 300.81,711.70 C302.15,712.64 303.48,713.61 304.82,714.64 C306.16,715.67 307.50,716.74 308.84,717.87 C310.18,718.99 311.52,720.16 312.85,721.37 C314.19,722.59 315.53,723.85 316.87,725.15 C318.21,726.46 319.55,727.80 320.89,729.19 C322.22,730.58 323.56,732.02 324.90,733.49 C326.24,734.96 327.58,736.47 328.92,738.02 C330.25,739.57 331.59,741.16 332.93,742.79 C334.27,744.42 335.61,746.08 336.95,747.79 C338.29,749.49 339.62,751.23 340.96,753.01 C342.30,754.80 343.64,756.62 344.98,758.48 C346.32,760.34 347.66,762.25 348.99,764.19 C350.33,766.14 351.67,768.15 353.01,770.15 C354.35,772.16 355.69,774.27 357.02,776.23 C358.36,778.20 359.70,780.19 361.04,781.95 C362.38,783.72 363.72,785.41 365.06,786.81 C366.39,788.22 367.73,789.45 369.07,790.39 C370.41,791.34 371.75,792.05 373.09,792.48 C374.43,792.92 375.76,793.10 377.10,793.00 C378.44,792.89 379.78,792.49 381.12,791.86 C382.46,791.23 383.80,790.30 385.13,789.23 C386.47,788.15 387.81,786.82 389.15,785.39 C390.49,783.95 391.83,782.32 393.16,780.63 C394.50,778.94 395.84,777.09 397.18,775.24 C398.52,773.38 399.86,771.42 401.20,769.50 C402.53,767.57 403.87,765.61 405.21,763.69 C406.55,761.76 407.89,759.84 409.23,757.95 C410.57,756.06 411.90,754.18 413.24,752.34 C414.58,750.51 415.92,748.69 417.26,746.93 C418.60,745.16 419.93,743.43 421.27,741.76 C422.61,740.09 423.95,738.46 425.29,736.90 C426.63,735.33 427.97,733.82 429.30,732.37 C430.64,730.91 431.98,729.51 433.32,728.16 C434.66,726.80 436.00,725.50 437.34,724.25 C438.67,722.99 440.01,721.78 441.35,720.62 C442.69,719.45 444.03,718.33 445.37,717.25 C446.70,716.17 448.04,715.13 449.38,714.13 C450.72,713.13 452.06,712.17 453.40,711.24 C454.74,710.31 456.07,709.41 457.41,708.55 C458.75,707.69 460.09,706.86 461.43,706.05 C462.77,705.25 464.11,704.48 465.44,703.73 C466.78,702.98 468.12,702.26 469.46,701.56 C470.80,700.86 472.14,700.18 473.48,699.52 C474.81,698.86 476.15,698.23 477.49,697.60 C478.83,696.98 480.17,696.37 481.51,695.78 C482.84,695.19 484.18,694.61 485.52,694.04 C486.86,693.48 488.20,692.93 489.54,692.39 C490.88,691.86 492.21,691.33 493.55,690.82 C494.89,690.31 496.23,689.82 497.57,689.33 C498.91,688.85 500.25,688.38 501.58,687.92 C502.92,687.46 504.26,687.02 505.60,686.59 C506.94,686.15 508.28,685.73 509.61,685.33 C510.95,684.92 512.29,684.52 513.63,684.14 C514.97,683.75 516.31,683.38 517.65,683.02 C518.98,682.66 520.32,682.31 521.66,681.97 C523.00,681.63 524.34,681.30 525.68,680.98 C527.02,680.67 528.35,680.36 529.69,680.06 C531.03,679.77 532.37,679.48 533.71,679.21 C535.05,678.93 536.39,678.67 537.72,678.41 C539.06,678.15 540.40,677.91 541.74,677.67 C543.08,677.43 544.42,677.21 545.75,676.99 C547.09,676.77 548.43,676.56 549.77,676.36 C551.11,676.16 552.45,675.97 553.79,675.79 C555.12,675.60 556.46,675.43 557.80,675.26 C559.14,675.10 560.48,674.94 561.82,674.79 C563.16,674.64 564.49,674.50 565.83,674.36 C567.17,674.22 568.51,674.10 569.85,673.98 C571.19,673.86 572.52,673.74 573.86,673.64 C575.20,673.53 576.54,673.43 577.88,673.34 C579.22,673.24 580.56,673.15 581.89,673.07 C583.23,672.99 584.57,672.92 585.91,672.85 C587.25,672.78 588.59,672.72 589.93,672.66 C591.26,672.60 592.60,672.55 593.94,672.50 C595.28,672.46 596.62,672.42 597.96,672.38 C599.30,672.34 600.63,672.31 601.97,672.28 C603.31,672.26 604.65,672.23 605.99,672.22 C607.33,672.20 608.66,672.18 610.00,672.17 C611.34,672.16 612.68,672.16 614.02,672.15 C615.36,672.15 616.70,672.15 618.03,672.15 C619.37,672.16 620.71,672.16 622.05,672.17 C623.39,672.18 624.73,672.20 626.07,672.21 C627.40,672.23 628.74,672.25 630.08,672.27 C631.42,672.29 632.76,672.31 634.10,672.33 C635.43,672.36 636.77,672.38 638.11,672.41 C639.45,672.44 640.79,672.47 642.13,672.50 C643.47,672.53 644.80,672.56 646.14,672.59 C647.48,672.63 648.82,672.66 650.16,672.70 C651.50,672.73 652.84,672.77 654.17,672.80 C655.51,672.84 656.85,672.87 658.19,672.91 C659.53,672.94 660.87,672.98 662.20,673.02 C663.54,673.05 664.88,673.09 666.22,673.12 C667.56,673.15 668.90,673.19 670.24,673.22 C671.57,673.25 672.91,673.28 674.25,673.31 C675.59,673.34 676.93,673.37 678.27,673.40 C679.61,673.43 680.94,673.45 682.28,673.48 C683.62,673.50 684.96,673.52 686.30,673.54 C687.64,673.56 688.98,673.58 690.31,673.59 C691.65,673.61 692.99,673.62 694.33,673.63 C695.67,673.63 697.01,673.64 698.34,673.64 C699.68,673.65 701.02,673.64 702.36,673.64 C703.70,673.64 705.04,673.63 706.38,673.62 C707.71,673.60 709.05,673.59 710.39,673.57 C711.73,673.55 713.07,673.52 714.41,673.49 C715.75,673.46 717.08,673.43 718.42,673.39 C719.76,673.35 721.10,673.31 722.44,673.26 C723.78,673.21 725.11,673.16 726.45,673.10 C727.79,673.04 729.13,672.97 730.47,672.90 C731.81,672.83 733.15,672.75 734.48,672.67 C735.82,672.59 737.83,672.45 738.50,672.40" fill="none" stroke="#fb6909" stroke-width="4.8" stroke-dasharray="12 6" stroke-dashoffset="17.90"/>
<path d="M664,672.25 L739,672.2" fill="none" stroke="#fb6909" stroke-width="4.8"/>
</g>
<rect x="91.50" y="504.50" width="647.00" height="335.00" fill="none" stroke="#707070" stroke-width="1.15"/>
<rect x="86" y="412.9" width="48" height="7" fill="#e60012"/>
<rect x="386" y="412.9" width="12" height="7" fill="#1d2088"/>
<rect x="404" y="412.9" width="12" height="7" fill="#1d2088"/>
<rect x="422" y="412.9" width="12" height="7" fill="#1d2088"/>
<rect x="86" y="926" width="48" height="7" fill="#fd9a31"/>
<rect x="283" y="926" width="12" height="7" fill="#fb6909"/>
<rect x="301" y="926" width="12" height="7" fill="#fb6909"/>
<rect x="319" y="926" width="12" height="7" fill="#fb6909"/>
<rect x="470" y="926" width="12" height="7" fill="#d7000f"/>
<rect x="488" y="926" width="3" height="7" fill="#d7000f"/>
<rect x="497" y="926" width="12" height="7" fill="#d7000f"/>
<rect x="515" y="926" width="3" height="7" fill="#d7000f"/>
<g>
<text x="-0.10" y="24.70" font-size="30" textLength="86.52" lengthAdjust="spacingAndGlyphs">20dBv</text>
<text x="56.81" y="108.80" font-size="30" textLength="32.24" lengthAdjust="spacingAndGlyphs">10</text>
<text x="72.74" y="192.70" font-size="30" textLength="17.34" lengthAdjust="spacingAndGlyphs">0</text>
<text x="44.99" y="276.60" font-size="30" textLength="45.11" lengthAdjust="spacingAndGlyphs">-10</text>
<text x="45.09" y="356.50" font-size="30" textLength="44.59" lengthAdjust="spacingAndGlyphs">-20</text>
<text x="76.28" y="382.00" font-size="30" textLength="32.62" lengthAdjust="spacingAndGlyphs">20</text>
<text x="222.10" y="381.90" font-size="30" textLength="47.68" lengthAdjust="spacingAndGlyphs">100</text>
<text x="432.46" y="381.90" font-size="30" textLength="30.71" lengthAdjust="spacingAndGlyphs">1k</text>
<text x="648.28" y="381.90" font-size="30" textLength="45.63" lengthAdjust="spacingAndGlyphs">10k</text>
<text x="707.69" y="381.90" font-size="30" textLength="82.09" lengthAdjust="spacingAndGlyphs">20kHz</text>
<text x="-0.10" y="514.70" font-size="30" textLength="86.52" lengthAdjust="spacingAndGlyphs">20dBv</text>
<text x="56.81" y="598.80" font-size="30" textLength="32.24" lengthAdjust="spacingAndGlyphs">10</text>
<text x="72.74" y="682.70" font-size="30" textLength="17.34" lengthAdjust="spacingAndGlyphs">0</text>
<text x="44.99" y="766.60" font-size="30" textLength="45.11" lengthAdjust="spacingAndGlyphs">-10</text>
<text x="45.09" y="846.50" font-size="30" textLength="44.59" lengthAdjust="spacingAndGlyphs">-20</text>
<text x="76.28" y="872.00" font-size="30" textLength="32.62" lengthAdjust="spacingAndGlyphs">20</text>
<text x="222.10" y="871.90" font-size="30" textLength="47.68" lengthAdjust="spacingAndGlyphs">100</text>
<text x="432.46" y="871.90" font-size="30" textLength="30.71" lengthAdjust="spacingAndGlyphs">1k</text>
<text x="648.28" y="871.90" font-size="30" textLength="45.63" lengthAdjust="spacingAndGlyphs">10k</text>
<text x="707.69" y="871.90" font-size="30" textLength="82.09" lengthAdjust="spacingAndGlyphs">20kHz</text>
<text x="145.89" y="428.40" font-size="30.2" textLength="75.66" lengthAdjust="spacingAndGlyphs">BASS</text>
<text x="229.10" y="428.40" font-size="30.2" textLength="129.04" lengthAdjust="spacingAndGlyphs">Boost/Cut</text>
<text x="445.30" y="428.40" font-size="30.2" textLength="107.53" lengthAdjust="spacingAndGlyphs">TREBLE</text>
<text x="562.30" y="428.40" font-size="30.2" textLength="128.54" lengthAdjust="spacingAndGlyphs">Boost/Cut</text>
<text x="313.10" y="903.60" font-size="30.2" textLength="53.73" lengthAdjust="spacingAndGlyphs">MID</text>
<text x="374.80" y="903.60" font-size="30.2" textLength="128.52" lengthAdjust="spacingAndGlyphs">Boost/Cut</text>
<text x="145.11" y="941.60" font-size="30.2" textLength="83.57" lengthAdjust="spacingAndGlyphs">250Hz</text>
<text x="342.20" y="941.70" font-size="30.2" textLength="84.08" lengthAdjust="spacingAndGlyphs">450Hz</text>
<text x="529.40" y="939.70" font-size="30.2" textLength="82.54" lengthAdjust="spacingAndGlyphs">700Hz</text>
</g>
</svg>
</body></html>
